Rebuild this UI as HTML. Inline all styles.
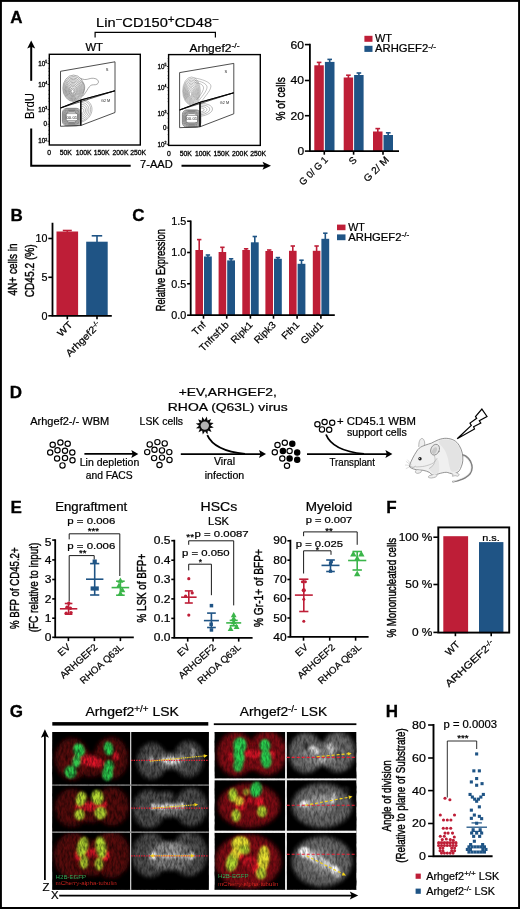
<!DOCTYPE html>
<html><head><meta charset="utf-8"><title>Figure</title>
<style>
html,body{margin:0;padding:0;background:#fff}
body{width:520px;height:909px;overflow:hidden}
svg{display:block}
text{font-family:"Liberation Sans",sans-serif;}
</style></head><body>
<svg width="520" height="909" viewBox="0 0 520 909">
<defs>
<filter id="b1" x="-30%" y="-30%" width="160%" height="160%"><feGaussianBlur stdDeviation="1.2"/></filter>
<filter id="b2" x="-30%" y="-30%" width="160%" height="160%"><feGaussianBlur stdDeviation="2.2"/></filter>
<filter id="b3" x="-30%" y="-30%" width="160%" height="160%"><feGaussianBlur stdDeviation="3.5"/></filter>
<filter id="b05" x="-30%" y="-30%" width="160%" height="160%"><feGaussianBlur stdDeviation="0.5"/></filter>
</defs>
<rect x="0" y="0" width="520" height="909" fill="#fff"/>

<rect x="0.0" y="0.0" width="520.0" height="1.9" fill="#000"/>
<rect x="0.0" y="0.0" width="1.9" height="909.0" fill="#000"/>
<rect x="518.1" y="0.0" width="1.9" height="909.0" fill="#000"/>
<rect x="0.0" y="907.0" width="520.0" height="2.0" fill="#000"/>
<text x="10.3" y="22.9" font-size="17" font-weight="bold" stroke="#000" stroke-width="0.3">A</text>
<text x="96.0" y="27.2" font-size="13.7" textLength="123.0" lengthAdjust="spacingAndGlyphs" stroke="#000" stroke-width="0.22">Lin<tspan dy="-4.5" font-size="11">−</tspan><tspan dy="4.5">CD150</tspan><tspan dy="-4.5" font-size="11">+</tspan><tspan dy="4.5">CD48</tspan><tspan dy="-4.5" font-size="11">−</tspan></text>
<path d="M95.1 37.5V32.4H215.4V37.5" fill="none" stroke="#000" stroke-width="1.2"/>
<text x="85.5" y="50.6" font-size="10" textLength="17.5" lengthAdjust="spacingAndGlyphs" stroke="#000" stroke-width="0.22">WT</text>
<text x="189.5" y="51.6" font-size="10.5" textLength="50.0" lengthAdjust="spacingAndGlyphs" stroke="#000" stroke-width="0.22">Arhgef2<tspan dy="-3.5" font-size="7.5">-/-</tspan></text>
<line x1="31.2" y1="80.8" x2="31.2" y2="46.0" stroke="#000" stroke-width="2"/>
<path d="M31.2 40.6L27.2 48.6L31.2 46.8L35.2 48.6Z" fill="#000" stroke="none" stroke-width="1"/>
<text transform="translate(34.2 106.0) rotate(-90)" font-size="12" text-anchor="middle" textLength="25.8" lengthAdjust="spacingAndGlyphs" stroke="#000" stroke-width="0.15">BrdU</text>
<path d="M31.2 128.5V165.7H130.7" fill="none" stroke="#000" stroke-width="2"/>
<text x="140.1" y="168.4" font-size="10.8" textLength="32.7" lengthAdjust="spacingAndGlyphs" stroke="#000" stroke-width="0.22">7-AAD</text>
<line x1="181.5" y1="165.7" x2="265.0" y2="165.7" stroke="#000" stroke-width="2"/>
<path d="M271 165.7L262.5 161.7L264.3 165.7L262.5 169.7Z" fill="#000" stroke="none" stroke-width="1"/>
<rect x="49.3" y="54.3" width="91.0" height="90.7" fill="#fff" stroke="#000" stroke-width="1.4"/>
<text x="47.1" y="65.7" font-size="6.3" text-anchor="end" stroke="#000" stroke-width="0.3">10<tspan dy="-2.5" font-size="3.5">5</tspan></text>
<line x1="47.5" y1="63.5" x2="49.3" y2="63.5" stroke="#000" stroke-width="0.8"/>
<text x="47.1" y="86.7" font-size="6.3" text-anchor="end" stroke="#000" stroke-width="0.3">10<tspan dy="-2.5" font-size="3.5">4</tspan></text>
<line x1="47.5" y1="84.5" x2="49.3" y2="84.5" stroke="#000" stroke-width="0.8"/>
<text x="47.1" y="111.8" font-size="6.3" text-anchor="end" stroke="#000" stroke-width="0.3">10<tspan dy="-2.5" font-size="3.5">3</tspan></text>
<line x1="47.5" y1="109.6" x2="49.3" y2="109.6" stroke="#000" stroke-width="0.8"/>
<text x="47.1" y="126.4" font-size="6.3" text-anchor="end" stroke="#000" stroke-width="0.3">0</text>
<line x1="47.5" y1="124.2" x2="49.3" y2="124.2" stroke="#000" stroke-width="0.8"/>
<text x="47.1" y="143.4" font-size="6.3" text-anchor="end" stroke="#000" stroke-width="0.3">10<tspan dy="-2.5" font-size="3.5">2</tspan></text>
<line x1="47.5" y1="141.2" x2="49.3" y2="141.2" stroke="#000" stroke-width="0.8"/>
<text x="49.2" y="155.4" font-size="6.8" text-anchor="middle" stroke="#000" stroke-width="0.3">0</text>
<text x="65.7" y="155.4" font-size="6.8" text-anchor="middle" stroke="#000" stroke-width="0.3">50K</text>
<text x="83.7" y="155.4" font-size="6.8" text-anchor="middle" stroke="#000" stroke-width="0.3">100K</text>
<text x="101.7" y="155.4" font-size="6.8" text-anchor="middle" stroke="#000" stroke-width="0.3">150K</text>
<text x="120.5" y="155.4" font-size="6.8" text-anchor="middle" stroke="#000" stroke-width="0.3">200K</text>
<text x="138.1" y="155.4" font-size="6.8" text-anchor="middle" stroke="#000" stroke-width="0.3">250K</text>
<line x1="48.3" y1="58.3" x2="49.3" y2="58.3" stroke="#000" stroke-width="0.5"/>
<line x1="48.3" y1="60.8" x2="49.3" y2="60.8" stroke="#000" stroke-width="0.5"/>
<line x1="48.3" y1="68.3" x2="49.3" y2="68.3" stroke="#000" stroke-width="0.5"/>
<line x1="48.3" y1="71.3" x2="49.3" y2="71.3" stroke="#000" stroke-width="0.5"/>
<line x1="48.3" y1="75.3" x2="49.3" y2="75.3" stroke="#000" stroke-width="0.5"/>
<line x1="48.3" y1="78.3" x2="49.3" y2="78.3" stroke="#000" stroke-width="0.5"/>
<line x1="48.3" y1="90.3" x2="49.3" y2="90.3" stroke="#000" stroke-width="0.5"/>
<line x1="48.3" y1="94.3" x2="49.3" y2="94.3" stroke="#000" stroke-width="0.5"/>
<line x1="48.3" y1="98.3" x2="49.3" y2="98.3" stroke="#000" stroke-width="0.5"/>
<line x1="48.3" y1="101.3" x2="49.3" y2="101.3" stroke="#000" stroke-width="0.5"/>
<line x1="48.3" y1="114.3" x2="49.3" y2="114.3" stroke="#000" stroke-width="0.5"/>
<line x1="48.3" y1="118.3" x2="49.3" y2="118.3" stroke="#000" stroke-width="0.5"/>
<line x1="48.3" y1="121.8" x2="49.3" y2="121.8" stroke="#000" stroke-width="0.5"/>
<line x1="48.3" y1="126.3" x2="49.3" y2="126.3" stroke="#000" stroke-width="0.5"/>
<line x1="48.3" y1="130.3" x2="49.3" y2="130.3" stroke="#000" stroke-width="0.5"/>
<line x1="48.3" y1="134.3" x2="49.3" y2="134.3" stroke="#000" stroke-width="0.5"/>
<ellipse cx="73.6" cy="88.3" rx="10.8" ry="13.2" fill="none" stroke="#5a5a5a" stroke-width="0.5"/>
<ellipse cx="73.5" cy="88.6" rx="9.9" ry="12.1" fill="none" stroke="#5a5a5a" stroke-width="0.5"/>
<ellipse cx="73.4" cy="88.9" rx="8.9" ry="10.9" fill="none" stroke="#5a5a5a" stroke-width="0.5"/>
<ellipse cx="73.3" cy="89.2" rx="8.0" ry="9.8" fill="none" stroke="#5a5a5a" stroke-width="0.5"/>
<ellipse cx="73.2" cy="89.5" rx="7.1" ry="8.7" fill="none" stroke="#5a5a5a" stroke-width="0.5"/>
<ellipse cx="73.1" cy="89.8" rx="6.2" ry="7.5" fill="none" stroke="#5a5a5a" stroke-width="0.5"/>
<ellipse cx="73.0" cy="90.1" rx="5.2" ry="6.4" fill="none" stroke="#5a5a5a" stroke-width="0.5"/>
<ellipse cx="72.9" cy="90.4" rx="4.3" ry="5.3" fill="none" stroke="#5a5a5a" stroke-width="0.5"/>
<ellipse cx="72.8" cy="90.7" rx="3.4" ry="4.1" fill="none" stroke="#5a5a5a" stroke-width="0.5"/>
<ellipse cx="72.7" cy="91.0" rx="2.4" ry="3.0" fill="none" stroke="#5a5a5a" stroke-width="0.5"/>
<ellipse cx="72.6" cy="91.3" rx="1.5" ry="1.8" fill="none" stroke="#5a5a5a" stroke-width="0.5"/>
<path d="M80.6 78.3C86.6 81.3 88.6 77.8 93.6 78.3C100.1 78.8 100.1 85.3 93.6 84.8C88.6 84.3 87.6 91.3 82.6 96.3" fill="none" stroke="#555" stroke-width="0.5"/>
<path d="M81.6 81.8C85.6 83.8 85.6 89.3 82.6 93.3" fill="none" stroke="#666" stroke-width="0.45"/>
<rect x="62.4" y="108.3" width="18.4" height="17.5" rx="4.6" fill="none" stroke="#4a4a4a" stroke-width="0.6"/>
<rect x="63.2" y="109.0" width="16.8" height="16.0" rx="4.2" fill="none" stroke="#4a4a4a" stroke-width="0.6"/>
<rect x="64.0" y="109.8" width="15.2" height="14.4" rx="3.8" fill="none" stroke="#4a4a4a" stroke-width="0.6"/>
<rect x="64.8" y="110.5" width="13.6" height="12.9" rx="3.4" fill="none" stroke="#4a4a4a" stroke-width="0.6"/>
<rect x="65.6" y="111.3" width="12.0" height="11.4" rx="3.0" fill="none" stroke="#4a4a4a" stroke-width="0.6"/>
<rect x="66.4" y="112.1" width="10.4" height="9.9" rx="2.6" fill="none" stroke="#4a4a4a" stroke-width="0.6"/>
<rect x="66.2" y="113.8" width="11.2" height="6.8" fill="#fff" stroke="#555" stroke-width="0.5"/>
<text x="71.8" y="118.8" font-size="4.3" text-anchor="middle" fill="#222">00.01</text>
<path d="M81.2 108.2C84.7 108.3 84.7 112.7 81.2 113.7" fill="none" stroke="#666" stroke-width="0.45"/>
<path d="M81.2 106.2C87.0 106.5 87.0 113.8 81.2 115.5" fill="none" stroke="#666" stroke-width="0.45"/>
<path d="M81.2 104.3C89.2 104.7 89.2 114.8 81.2 117.3" fill="none" stroke="#666" stroke-width="0.45"/>
<path d="M81.2 102.5C91.5 102.9 91.5 116.0 81.2 119.1" fill="none" stroke="#666" stroke-width="0.45"/>
<path d="M81.2 100.5C93.8 101.1 93.8 117.0 81.2 120.9" fill="none" stroke="#666" stroke-width="0.45"/>
<path d="M81.2 99.1C95.6 99.8 95.6 117.9 81.2 122.2" fill="none" stroke="#666" stroke-width="0.45"/>
<path d="M60.5 71.3L115.0 61.8L115.0 90.8L60.5 108.0Z" fill="none" stroke="#222" stroke-width="0.8"/>
<path d="M60.5 108.0L80.8 100.0L80.8 125.5L60.5 126.3Z" fill="none" stroke="#222" stroke-width="0.8"/>
<path d="M80.8 100.0L115.0 90.8L115.0 112.5L80.8 125.5Z" fill="none" stroke="#222" stroke-width="0.8"/>
<path d="M60.5 108.0L80.8 100.0L115.0 90.8" fill="none" stroke="#000" stroke-width="1.1"/>
<line x1="80.8" y1="100.0" x2="80.8" y2="125.5" stroke="#000" stroke-width="1.1"/>
<text x="105.7" y="71.4" font-size="4" fill="#222">S</text>
<text x="101.0" y="101.8" font-size="3.8" fill="#222">G2 M</text>
<rect x="168.6" y="54.6" width="91.7" height="90.8" fill="#fff" stroke="#000" stroke-width="1.4"/>
<text x="166.4" y="68.7" font-size="6.3" text-anchor="end" stroke="#000" stroke-width="0.3">10<tspan dy="-2.5" font-size="3.5">5</tspan></text>
<line x1="166.8" y1="66.5" x2="168.6" y2="66.5" stroke="#000" stroke-width="0.8"/>
<text x="166.4" y="89.9" font-size="6.3" text-anchor="end" stroke="#000" stroke-width="0.3">10<tspan dy="-2.5" font-size="3.5">4</tspan></text>
<line x1="166.8" y1="87.7" x2="168.6" y2="87.7" stroke="#000" stroke-width="0.8"/>
<text x="166.4" y="115.6" font-size="6.3" text-anchor="end" stroke="#000" stroke-width="0.3">10<tspan dy="-2.5" font-size="3.5">3</tspan></text>
<line x1="166.8" y1="113.4" x2="168.6" y2="113.4" stroke="#000" stroke-width="0.8"/>
<text x="166.4" y="130.2" font-size="6.3" text-anchor="end" stroke="#000" stroke-width="0.3">0</text>
<line x1="166.8" y1="128.0" x2="168.6" y2="128.0" stroke="#000" stroke-width="0.8"/>
<text x="166.4" y="146.5" font-size="6.3" text-anchor="end" stroke="#000" stroke-width="0.3">10<tspan dy="-2.5" font-size="3.5">2</tspan></text>
<line x1="166.8" y1="144.3" x2="168.6" y2="144.3" stroke="#000" stroke-width="0.8"/>
<text x="168.8" y="155.8" font-size="6.8" text-anchor="middle" stroke="#000" stroke-width="0.3">0</text>
<text x="185.7" y="155.8" font-size="6.8" text-anchor="middle" stroke="#000" stroke-width="0.3">50K</text>
<text x="202.9" y="155.8" font-size="6.8" text-anchor="middle" stroke="#000" stroke-width="0.3">100K</text>
<text x="221.5" y="155.8" font-size="6.8" text-anchor="middle" stroke="#000" stroke-width="0.3">150K</text>
<text x="240.0" y="155.8" font-size="6.8" text-anchor="middle" stroke="#000" stroke-width="0.3">200K</text>
<text x="258.1" y="155.8" font-size="6.8" text-anchor="middle" stroke="#000" stroke-width="0.3">250K</text>
<line x1="167.6" y1="58.6" x2="168.6" y2="58.6" stroke="#000" stroke-width="0.5"/>
<line x1="167.6" y1="61.1" x2="168.6" y2="61.1" stroke="#000" stroke-width="0.5"/>
<line x1="167.6" y1="68.6" x2="168.6" y2="68.6" stroke="#000" stroke-width="0.5"/>
<line x1="167.6" y1="71.6" x2="168.6" y2="71.6" stroke="#000" stroke-width="0.5"/>
<line x1="167.6" y1="75.6" x2="168.6" y2="75.6" stroke="#000" stroke-width="0.5"/>
<line x1="167.6" y1="78.6" x2="168.6" y2="78.6" stroke="#000" stroke-width="0.5"/>
<line x1="167.6" y1="90.6" x2="168.6" y2="90.6" stroke="#000" stroke-width="0.5"/>
<line x1="167.6" y1="94.6" x2="168.6" y2="94.6" stroke="#000" stroke-width="0.5"/>
<line x1="167.6" y1="98.6" x2="168.6" y2="98.6" stroke="#000" stroke-width="0.5"/>
<line x1="167.6" y1="101.6" x2="168.6" y2="101.6" stroke="#000" stroke-width="0.5"/>
<line x1="167.6" y1="114.6" x2="168.6" y2="114.6" stroke="#000" stroke-width="0.5"/>
<line x1="167.6" y1="118.6" x2="168.6" y2="118.6" stroke="#000" stroke-width="0.5"/>
<line x1="167.6" y1="122.1" x2="168.6" y2="122.1" stroke="#000" stroke-width="0.5"/>
<line x1="167.6" y1="126.6" x2="168.6" y2="126.6" stroke="#000" stroke-width="0.5"/>
<line x1="167.6" y1="130.6" x2="168.6" y2="130.6" stroke="#000" stroke-width="0.5"/>
<line x1="167.6" y1="134.6" x2="168.6" y2="134.6" stroke="#000" stroke-width="0.5"/>
<ellipse cx="191.5" cy="91.0" rx="8.8" ry="14.0" fill="none" stroke="#808080" stroke-width="0.5"/>
<ellipse cx="191.4" cy="91.3" rx="8.0" ry="12.8" fill="none" stroke="#808080" stroke-width="0.5"/>
<ellipse cx="191.3" cy="91.6" rx="7.3" ry="11.6" fill="none" stroke="#808080" stroke-width="0.5"/>
<ellipse cx="191.2" cy="91.9" rx="6.5" ry="10.4" fill="none" stroke="#808080" stroke-width="0.5"/>
<ellipse cx="191.1" cy="92.2" rx="5.8" ry="9.2" fill="none" stroke="#808080" stroke-width="0.5"/>
<ellipse cx="191.0" cy="92.5" rx="5.0" ry="8.0" fill="none" stroke="#808080" stroke-width="0.5"/>
<ellipse cx="190.9" cy="92.8" rx="4.3" ry="6.8" fill="none" stroke="#808080" stroke-width="0.5"/>
<ellipse cx="190.8" cy="93.1" rx="3.5" ry="5.6" fill="none" stroke="#808080" stroke-width="0.5"/>
<ellipse cx="190.7" cy="93.4" rx="2.7" ry="4.4" fill="none" stroke="#808080" stroke-width="0.5"/>
<ellipse cx="190.6" cy="93.7" rx="2.0" ry="3.2" fill="none" stroke="#808080" stroke-width="0.5"/>
<ellipse cx="190.5" cy="94.0" rx="1.2" ry="2.0" fill="none" stroke="#808080" stroke-width="0.5"/>
<path d="M194.5 78.0C201.5 79.0 210.5 82.0 211.0 86.0C210.5 92.0 203.5 97.0 199.5 105.0" fill="none" stroke="#777" stroke-width="0.45"/>
<path d="M194.5 80.4C201.5 81.2 206.7 83.8 207.1 87.0C206.7 92.0 201.1 97.0 197.9 102.2" fill="none" stroke="#777" stroke-width="0.45"/>
<path d="M194.5 82.6C201.5 83.2 203.3 85.4 203.6 87.9C203.3 92.0 198.9 97.0 196.5 99.7" fill="none" stroke="#777" stroke-width="0.45"/>
<rect x="182.4" y="109.9" width="18.4" height="17.5" rx="4.6" fill="none" stroke="#4a4a4a" stroke-width="0.6"/>
<rect x="183.2" y="110.6" width="16.8" height="16.0" rx="4.2" fill="none" stroke="#4a4a4a" stroke-width="0.6"/>
<rect x="184.0" y="111.4" width="15.2" height="14.4" rx="3.8" fill="none" stroke="#4a4a4a" stroke-width="0.6"/>
<rect x="184.8" y="112.1" width="13.6" height="12.9" rx="3.4" fill="none" stroke="#4a4a4a" stroke-width="0.6"/>
<rect x="185.6" y="112.9" width="12.0" height="11.4" rx="3.0" fill="none" stroke="#4a4a4a" stroke-width="0.6"/>
<rect x="186.4" y="113.7" width="10.4" height="9.9" rx="2.6" fill="none" stroke="#4a4a4a" stroke-width="0.6"/>
<rect x="186.2" y="115.4" width="11.2" height="6.8" fill="#fff" stroke="#555" stroke-width="0.5"/>
<text x="191.8" y="120.4" font-size="4.3" text-anchor="middle" fill="#222">00.01</text>
<path d="M200.4 107.9C205.5 108.0 205.5 111.2 200.4 112.0" fill="none" stroke="#666" stroke-width="0.45"/>
<path d="M200.4 106.4C209.1 106.6 209.1 112.1 200.4 113.4" fill="none" stroke="#666" stroke-width="0.45"/>
<path d="M200.4 104.9C212.8 105.1 212.8 113.0 200.4 114.9" fill="none" stroke="#666" stroke-width="0.45"/>
<path d="M200.4 103.3C216.5 103.7 216.5 113.8 200.4 116.3" fill="none" stroke="#666" stroke-width="0.45"/>
<path d="M179.6 72.6L233.8 63.4L233.8 92.8L179.6 110.0Z" fill="none" stroke="#222" stroke-width="0.8"/>
<path d="M179.6 110.0L200.0 102.3L200.0 126.8L179.6 127.7Z" fill="none" stroke="#222" stroke-width="0.8"/>
<path d="M200.0 102.3L233.8 92.8L233.8 113.8L200.0 126.8Z" fill="none" stroke="#222" stroke-width="0.8"/>
<path d="M179.6 110.0L200.0 102.3L233.8 92.8" fill="none" stroke="#000" stroke-width="1.1"/>
<line x1="200.0" y1="102.3" x2="200.0" y2="126.8" stroke="#000" stroke-width="1.1"/>
<text x="224.5" y="73.0" font-size="4" fill="#222">S</text>
<text x="219.8" y="103.8" font-size="3.8" fill="#222">G2 M</text>
<line x1="304.9" y1="44.6" x2="309.9" y2="44.6" stroke="#000" stroke-width="1.6"/>
<text x="304.1" y="48.5" font-size="10.8" text-anchor="end" textLength="13.5" lengthAdjust="spacingAndGlyphs" stroke="#000" stroke-width="0.22">60</text>
<line x1="304.9" y1="80.5" x2="309.9" y2="80.5" stroke="#000" stroke-width="1.6"/>
<text x="304.1" y="84.4" font-size="10.8" text-anchor="end" textLength="13.5" lengthAdjust="spacingAndGlyphs" stroke="#000" stroke-width="0.22">40</text>
<line x1="304.9" y1="115.7" x2="309.9" y2="115.7" stroke="#000" stroke-width="1.6"/>
<text x="304.1" y="119.6" font-size="10.8" text-anchor="end" textLength="13.5" lengthAdjust="spacingAndGlyphs" stroke="#000" stroke-width="0.22">20</text>
<line x1="304.9" y1="151.1" x2="309.9" y2="151.1" stroke="#000" stroke-width="1.6"/>
<text x="304.1" y="155.0" font-size="10.8" text-anchor="end" textLength="6.7" lengthAdjust="spacingAndGlyphs" stroke="#000" stroke-width="0.22">0</text>
<line x1="319.1" y1="66.3" x2="319.1" y2="62.4" stroke="#BE1E37" stroke-width="1.6"/>
<line x1="316.8" y1="62.4" x2="321.4" y2="62.4" stroke="#BE1E37" stroke-width="1.6"/>
<rect x="314.3" y="65.3" width="9.5" height="85.8" fill="#BE1E37"/>
<line x1="329.7" y1="62.9" x2="329.7" y2="59.4" stroke="#1F5485" stroke-width="1.6"/>
<line x1="327.4" y1="59.4" x2="332.0" y2="59.4" stroke="#1F5485" stroke-width="1.6"/>
<rect x="324.9" y="61.9" width="9.6" height="89.2" fill="#1F5485"/>
<line x1="348.4" y1="78.5" x2="348.4" y2="75.2" stroke="#BE1E37" stroke-width="1.6"/>
<line x1="346.1" y1="75.2" x2="350.7" y2="75.2" stroke="#BE1E37" stroke-width="1.6"/>
<rect x="343.7" y="77.5" width="9.4" height="73.6" fill="#BE1E37"/>
<line x1="358.9" y1="76.0" x2="358.9" y2="73.0" stroke="#1F5485" stroke-width="1.6"/>
<line x1="356.6" y1="73.0" x2="361.2" y2="73.0" stroke="#1F5485" stroke-width="1.6"/>
<rect x="354.1" y="75.0" width="9.5" height="76.1" fill="#1F5485"/>
<line x1="377.8" y1="132.5" x2="377.8" y2="128.6" stroke="#BE1E37" stroke-width="1.6"/>
<line x1="375.4" y1="128.6" x2="380.1" y2="128.6" stroke="#BE1E37" stroke-width="1.6"/>
<rect x="373.0" y="131.5" width="9.5" height="19.6" fill="#BE1E37"/>
<line x1="388.2" y1="136.0" x2="388.2" y2="132.8" stroke="#1F5485" stroke-width="1.6"/>
<line x1="385.9" y1="132.8" x2="390.6" y2="132.8" stroke="#1F5485" stroke-width="1.6"/>
<rect x="383.5" y="135.0" width="9.5" height="16.1" fill="#1F5485"/>
<path d="M309.9 43.8V151.1H399" fill="none" stroke="#000" stroke-width="1.8"/>
<line x1="324.3" y1="151.1" x2="324.3" y2="154.7" stroke="#000" stroke-width="1.6"/>
<line x1="353.6" y1="151.1" x2="353.6" y2="154.7" stroke="#000" stroke-width="1.6"/>
<line x1="383.0" y1="151.1" x2="383.0" y2="154.7" stroke="#000" stroke-width="1.6"/>
<text transform="translate(284.6 98.9) rotate(-90)" font-size="12.8" text-anchor="middle" textLength="43.4" lengthAdjust="spacingAndGlyphs" stroke="#000" stroke-width="0.42">% of cells</text>
<text transform="translate(328.5 160.5) rotate(-45)" font-size="9.8" text-anchor="end" textLength="36.0" lengthAdjust="spacingAndGlyphs" stroke="#000" stroke-width="0.22">G 0/ G 1</text>
<text transform="translate(357.5 160.5) rotate(-45)" font-size="9.8" text-anchor="end" stroke="#000" stroke-width="0.22">S</text>
<text transform="translate(389.5 160.5) rotate(-45)" font-size="9.8" text-anchor="end" textLength="31.0" lengthAdjust="spacingAndGlyphs" stroke="#000" stroke-width="0.22">G 2/ M</text>
<rect x="364.4" y="35.8" width="8.1" height="6.0" fill="#BE1E37"/>
<rect x="364.4" y="45.8" width="8.1" height="6.1" fill="#1F5485"/>
<text x="375.0" y="42.2" font-size="10.2" textLength="17.0" lengthAdjust="spacingAndGlyphs" stroke="#000" stroke-width="0.22">WT</text>
<text x="375.0" y="52.2" font-size="10.2" textLength="61.0" lengthAdjust="spacingAndGlyphs" stroke="#000" stroke-width="0.22">ARHGEF2<tspan dy="-3.4" font-size="7.5">-/-</tspan></text>
<text x="10.6" y="221.2" font-size="17" font-weight="bold" stroke="#000" stroke-width="0.3">B</text>
<line x1="48.3" y1="238.5" x2="52.5" y2="238.5" stroke="#000" stroke-width="1.6"/>
<text x="47.5" y="242.4" font-size="10.7" text-anchor="end" textLength="11.9" lengthAdjust="spacingAndGlyphs" stroke="#000" stroke-width="0.22">10</text>
<line x1="48.3" y1="277.3" x2="52.5" y2="277.3" stroke="#000" stroke-width="1.6"/>
<text x="47.5" y="281.2" font-size="10.7" text-anchor="end" textLength="6.0" lengthAdjust="spacingAndGlyphs" stroke="#000" stroke-width="0.22">5</text>
<line x1="48.3" y1="315.8" x2="52.5" y2="315.8" stroke="#000" stroke-width="1.6"/>
<text x="47.5" y="319.7" font-size="10.7" text-anchor="end" textLength="6.0" lengthAdjust="spacingAndGlyphs" stroke="#000" stroke-width="0.22">0</text>
<line x1="67.3" y1="232.5" x2="67.3" y2="230.5" stroke="#BE1E37" stroke-width="1.6"/>
<line x1="62.8" y1="230.5" x2="71.8" y2="230.5" stroke="#BE1E37" stroke-width="1.6"/>
<rect x="56.5" y="231.5" width="21.6" height="84.3" fill="#BE1E37"/>
<line x1="97.0" y1="242.7" x2="97.0" y2="235.8" stroke="#1F5485" stroke-width="1.6"/>
<line x1="91.7" y1="235.8" x2="102.2" y2="235.8" stroke="#1F5485" stroke-width="1.6"/>
<rect x="86.2" y="241.7" width="21.5" height="74.1" fill="#1F5485"/>
<path d="M52.5 222.8V315.8H111.8" fill="none" stroke="#000" stroke-width="1.8"/>
<line x1="67.3" y1="315.8" x2="67.3" y2="319.3" stroke="#000" stroke-width="1.6"/>
<line x1="97.0" y1="315.8" x2="97.0" y2="319.3" stroke="#000" stroke-width="1.6"/>
<text transform="translate(17.0 269.5) rotate(-90)" font-size="12.5" text-anchor="middle" textLength="52.0" lengthAdjust="spacingAndGlyphs" stroke="#000" stroke-width="0.42">4N+ cells in</text>
<text transform="translate(33.8 270.8) rotate(-90)" font-size="12.5" text-anchor="middle" textLength="53.0" lengthAdjust="spacingAndGlyphs" stroke="#000" stroke-width="0.42">CD45.2 (%)</text>
<text transform="translate(73.0 325.5) rotate(-45)" font-size="9.8" text-anchor="end" textLength="16.5" lengthAdjust="spacingAndGlyphs" stroke="#000" stroke-width="0.22">WT</text>
<text transform="translate(101.5 325.5) rotate(-45)" font-size="9.8" text-anchor="end" textLength="45.0" lengthAdjust="spacingAndGlyphs" stroke="#000" stroke-width="0.22">Arhgef2<tspan dy="-3.2" font-size="6.5">-/-</tspan></text>
<text x="132.2" y="221.2" font-size="17" font-weight="bold" stroke="#000" stroke-width="0.3">C</text>
<line x1="187.1" y1="221.2" x2="190.7" y2="221.2" stroke="#000" stroke-width="1.6"/>
<text x="186.3" y="225.1" font-size="10.8" text-anchor="end" textLength="15.0" lengthAdjust="spacingAndGlyphs" stroke="#000" stroke-width="0.22">1.5</text>
<line x1="187.1" y1="252.5" x2="190.7" y2="252.5" stroke="#000" stroke-width="1.6"/>
<text x="186.3" y="256.4" font-size="10.8" text-anchor="end" textLength="15.0" lengthAdjust="spacingAndGlyphs" stroke="#000" stroke-width="0.22">1.0</text>
<line x1="187.1" y1="283.8" x2="190.7" y2="283.8" stroke="#000" stroke-width="1.6"/>
<text x="186.3" y="287.7" font-size="10.8" text-anchor="end" textLength="15.0" lengthAdjust="spacingAndGlyphs" stroke="#000" stroke-width="0.22">0.5</text>
<line x1="187.1" y1="315.2" x2="190.7" y2="315.2" stroke="#000" stroke-width="1.6"/>
<text x="186.3" y="319.1" font-size="10.8" text-anchor="end" textLength="15.0" lengthAdjust="spacingAndGlyphs" stroke="#000" stroke-width="0.22">0.0</text>
<line x1="199.2" y1="251.0" x2="199.2" y2="239.6" stroke="#BE1E37" stroke-width="1.6"/>
<line x1="197.0" y1="239.6" x2="201.4" y2="239.6" stroke="#BE1E37" stroke-width="1.6"/>
<rect x="195.4" y="250.0" width="7.6" height="65.2" fill="#BE1E37"/>
<line x1="207.9" y1="257.5" x2="207.9" y2="255.0" stroke="#1F5485" stroke-width="1.6"/>
<line x1="205.7" y1="255.0" x2="210.1" y2="255.0" stroke="#1F5485" stroke-width="1.6"/>
<rect x="204.0" y="256.5" width="7.8" height="58.7" fill="#1F5485"/>
<line x1="222.4" y1="253.0" x2="222.4" y2="247.3" stroke="#BE1E37" stroke-width="1.6"/>
<line x1="220.2" y1="247.3" x2="224.6" y2="247.3" stroke="#BE1E37" stroke-width="1.6"/>
<rect x="218.6" y="252.0" width="7.6" height="63.2" fill="#BE1E37"/>
<line x1="231.1" y1="261.4" x2="231.1" y2="258.8" stroke="#1F5485" stroke-width="1.6"/>
<line x1="228.9" y1="258.8" x2="233.3" y2="258.8" stroke="#1F5485" stroke-width="1.6"/>
<rect x="227.2" y="260.4" width="7.8" height="54.8" fill="#1F5485"/>
<line x1="246.1" y1="251.0" x2="246.1" y2="248.8" stroke="#BE1E37" stroke-width="1.6"/>
<line x1="243.9" y1="248.8" x2="248.3" y2="248.8" stroke="#BE1E37" stroke-width="1.6"/>
<rect x="242.3" y="250.0" width="7.6" height="65.2" fill="#BE1E37"/>
<line x1="254.8" y1="243.3" x2="254.8" y2="236.5" stroke="#1F5485" stroke-width="1.6"/>
<line x1="252.6" y1="236.5" x2="257.0" y2="236.5" stroke="#1F5485" stroke-width="1.6"/>
<rect x="250.9" y="242.3" width="7.8" height="72.9" fill="#1F5485"/>
<line x1="269.2" y1="252.0" x2="269.2" y2="250.0" stroke="#BE1E37" stroke-width="1.6"/>
<line x1="267.0" y1="250.0" x2="271.4" y2="250.0" stroke="#BE1E37" stroke-width="1.6"/>
<rect x="265.4" y="251.0" width="7.6" height="64.2" fill="#BE1E37"/>
<line x1="277.9" y1="259.8" x2="277.9" y2="257.6" stroke="#1F5485" stroke-width="1.6"/>
<line x1="275.7" y1="257.6" x2="280.1" y2="257.6" stroke="#1F5485" stroke-width="1.6"/>
<rect x="274.0" y="258.8" width="7.8" height="56.4" fill="#1F5485"/>
<line x1="292.8" y1="251.8" x2="292.8" y2="246.0" stroke="#BE1E37" stroke-width="1.6"/>
<line x1="290.6" y1="246.0" x2="295.0" y2="246.0" stroke="#BE1E37" stroke-width="1.6"/>
<rect x="289.0" y="250.8" width="7.6" height="64.4" fill="#BE1E37"/>
<line x1="301.5" y1="264.8" x2="301.5" y2="260.2" stroke="#1F5485" stroke-width="1.6"/>
<line x1="299.3" y1="260.2" x2="303.7" y2="260.2" stroke="#1F5485" stroke-width="1.6"/>
<rect x="297.6" y="263.8" width="7.8" height="51.4" fill="#1F5485"/>
<line x1="316.6" y1="251.8" x2="316.6" y2="246.0" stroke="#BE1E37" stroke-width="1.6"/>
<line x1="314.4" y1="246.0" x2="318.8" y2="246.0" stroke="#BE1E37" stroke-width="1.6"/>
<rect x="312.8" y="250.8" width="7.6" height="64.4" fill="#BE1E37"/>
<line x1="325.3" y1="239.8" x2="325.3" y2="233.2" stroke="#1F5485" stroke-width="1.6"/>
<line x1="323.1" y1="233.2" x2="327.5" y2="233.2" stroke="#1F5485" stroke-width="1.6"/>
<rect x="321.4" y="238.8" width="7.8" height="76.4" fill="#1F5485"/>
<path d="M190.7 220.4V315.2H334.8" fill="none" stroke="#000" stroke-width="1.8"/>
<line x1="203.5" y1="315.2" x2="203.5" y2="318.7" stroke="#000" stroke-width="1.6"/>
<line x1="226.7" y1="315.2" x2="226.7" y2="318.7" stroke="#000" stroke-width="1.6"/>
<line x1="250.4" y1="315.2" x2="250.4" y2="318.7" stroke="#000" stroke-width="1.6"/>
<line x1="273.5" y1="315.2" x2="273.5" y2="318.7" stroke="#000" stroke-width="1.6"/>
<line x1="297.1" y1="315.2" x2="297.1" y2="318.7" stroke="#000" stroke-width="1.6"/>
<line x1="320.9" y1="315.2" x2="320.9" y2="318.7" stroke="#000" stroke-width="1.6"/>
<text transform="translate(164.8 270.2) rotate(-90)" font-size="12.8" text-anchor="middle" textLength="82.3" lengthAdjust="spacingAndGlyphs" stroke="#000" stroke-width="0.42">Relative Expression</text>
<text transform="translate(206.4 325.5) rotate(-45)" font-size="9.8" text-anchor="end" textLength="14.7" lengthAdjust="spacingAndGlyphs" stroke="#000" stroke-width="0.22">Tnf</text>
<text transform="translate(229.6 325.5) rotate(-45)" font-size="9.8" text-anchor="end" textLength="37.4" lengthAdjust="spacingAndGlyphs" stroke="#000" stroke-width="0.22">Tnfrsf1b</text>
<text transform="translate(253.3 325.5) rotate(-45)" font-size="9.8" text-anchor="end" textLength="26.1" lengthAdjust="spacingAndGlyphs" stroke="#000" stroke-width="0.22">Ripk1</text>
<text transform="translate(276.4 325.5) rotate(-45)" font-size="9.8" text-anchor="end" textLength="26.1" lengthAdjust="spacingAndGlyphs" stroke="#000" stroke-width="0.22">Ripk3</text>
<text transform="translate(300.0 325.5) rotate(-45)" font-size="9.8" text-anchor="end" textLength="20.4" lengthAdjust="spacingAndGlyphs" stroke="#000" stroke-width="0.22">Fth1</text>
<text transform="translate(323.8 325.5) rotate(-45)" font-size="9.8" text-anchor="end" textLength="27.2" lengthAdjust="spacingAndGlyphs" stroke="#000" stroke-width="0.22">Glud1</text>
<rect x="337.0" y="224.6" width="8.5" height="5.6" fill="#BE1E37"/>
<rect x="337.0" y="234.4" width="8.5" height="5.8" fill="#1F5485"/>
<text x="348.3" y="230.9" font-size="10.2" textLength="16.5" lengthAdjust="spacingAndGlyphs" stroke="#000" stroke-width="0.22">WT</text>
<text x="348.3" y="240.7" font-size="10.2" textLength="61.0" lengthAdjust="spacingAndGlyphs" stroke="#000" stroke-width="0.22">ARHGEF2<tspan dy="-3.4" font-size="7.5">-/-</tspan></text>
<text x="9.8" y="397.7" font-size="17" font-weight="bold" stroke="#000" stroke-width="0.3">D</text>
<text x="30.2" y="425.2" font-size="10.4" textLength="79.1" lengthAdjust="spacingAndGlyphs" stroke="#000" stroke-width="0.22">Arhgef2-/- WBM</text>
<text x="139.6" y="425.0" font-size="10.4" textLength="43.5" lengthAdjust="spacingAndGlyphs" stroke="#000" stroke-width="0.22">LSK cells</text>
<text x="178.7" y="395.6" font-size="11.6" textLength="98.2" lengthAdjust="spacingAndGlyphs" stroke="#000" stroke-width="0.22">+EV,ARHGEF2,</text>
<text x="167.8" y="411.2" font-size="11.6" textLength="120.0" lengthAdjust="spacingAndGlyphs" stroke="#000" stroke-width="0.22">RHOA (Q63L) virus</text>
<circle cx="52.7" cy="444.8" r="2.65" fill="#fff" stroke="#000" stroke-width="1.15"/>
<circle cx="60.4" cy="442.5" r="2.65" fill="#fff" stroke="#000" stroke-width="1.15"/>
<circle cx="67.7" cy="443.8" r="2.65" fill="#fff" stroke="#000" stroke-width="1.15"/>
<circle cx="50.2" cy="452.5" r="2.65" fill="#fff" stroke="#000" stroke-width="1.15"/>
<circle cx="57.5" cy="450.2" r="2.65" fill="#fff" stroke="#000" stroke-width="1.15"/>
<circle cx="65.0" cy="450.8" r="2.65" fill="#fff" stroke="#000" stroke-width="1.15"/>
<circle cx="72.3" cy="452.5" r="2.65" fill="#fff" stroke="#000" stroke-width="1.15"/>
<circle cx="57.1" cy="458.5" r="2.65" fill="#fff" stroke="#000" stroke-width="1.15"/>
<circle cx="65.0" cy="458.0" r="2.65" fill="#fff" stroke="#000" stroke-width="1.15"/>
<circle cx="72.5" cy="460.3" r="2.65" fill="#fff" stroke="#000" stroke-width="1.15"/>
<circle cx="62.5" cy="465.4" r="2.65" fill="#fff" stroke="#000" stroke-width="1.15"/>
<circle cx="149.7" cy="444.4" r="2.65" fill="#fff" stroke="#000" stroke-width="1.15"/>
<circle cx="157.4" cy="442.1" r="2.65" fill="#fff" stroke="#000" stroke-width="1.15"/>
<circle cx="164.7" cy="443.4" r="2.65" fill="#fff" stroke="#000" stroke-width="1.15"/>
<circle cx="147.2" cy="452.1" r="2.65" fill="#fff" stroke="#000" stroke-width="1.15"/>
<circle cx="154.5" cy="449.8" r="2.65" fill="#fff" stroke="#000" stroke-width="1.15"/>
<circle cx="162.0" cy="450.4" r="2.65" fill="#fff" stroke="#000" stroke-width="1.15"/>
<circle cx="169.3" cy="452.1" r="2.65" fill="#fff" stroke="#000" stroke-width="1.15"/>
<circle cx="154.1" cy="458.1" r="2.65" fill="#fff" stroke="#000" stroke-width="1.15"/>
<circle cx="162.0" cy="457.6" r="2.65" fill="#fff" stroke="#000" stroke-width="1.15"/>
<circle cx="169.5" cy="459.9" r="2.65" fill="#fff" stroke="#000" stroke-width="1.15"/>
<circle cx="159.5" cy="465.0" r="2.65" fill="#fff" stroke="#000" stroke-width="1.15"/>
<circle cx="277.5" cy="445.0" r="2.65" fill="#fff" stroke="#000" stroke-width="1.15"/>
<circle cx="284.8" cy="442.8" r="2.65" fill="#fff" stroke="#000" stroke-width="1.15"/>
<circle cx="292.3" cy="443.7" r="2.65" fill="#000" stroke="#000" stroke-width="1.15"/>
<circle cx="274.8" cy="452.3" r="2.65" fill="#fff" stroke="#000" stroke-width="1.15"/>
<circle cx="282.9" cy="451.0" r="2.65" fill="#000" stroke="#000" stroke-width="1.15"/>
<circle cx="289.6" cy="451.0" r="2.65" fill="#fff" stroke="#000" stroke-width="1.15"/>
<circle cx="297.2" cy="452.5" r="2.65" fill="#000" stroke="#000" stroke-width="1.15"/>
<circle cx="282.3" cy="458.5" r="2.65" fill="#fff" stroke="#000" stroke-width="1.15"/>
<circle cx="289.6" cy="458.5" r="2.65" fill="#000" stroke="#000" stroke-width="1.15"/>
<circle cx="297.2" cy="459.8" r="2.65" fill="#000" stroke="#000" stroke-width="1.15"/>
<circle cx="287.0" cy="465.7" r="2.65" fill="#fff" stroke="#000" stroke-width="1.15"/>
<circle cx="317.4" cy="424.3" r="2.65" fill="#fff" stroke="#000" stroke-width="1.15"/>
<circle cx="324.6" cy="422.0" r="2.65" fill="#fff" stroke="#000" stroke-width="1.15"/>
<circle cx="332.2" cy="422.7" r="2.65" fill="#fff" stroke="#000" stroke-width="1.15"/>
<circle cx="322.0" cy="429.4" r="2.65" fill="#fff" stroke="#000" stroke-width="1.15"/>
<circle cx="329.2" cy="429.7" r="2.65" fill="#fff" stroke="#000" stroke-width="1.15"/>
<line x1="84.4" y1="453.9" x2="134.3" y2="453.9" stroke="#000" stroke-width="1.9"/>
<path d="M138.3 453.9L131.3 449.9L132.7 453.9L131.3 457.9Z" fill="#000" stroke="none" stroke-width="1"/>
<line x1="180.8" y1="454.1" x2="262.0" y2="454.1" stroke="#000" stroke-width="1.9"/>
<path d="M266.0 454.1L259.0 450.1L260.4 454.1L259.0 458.1Z" fill="#000" stroke="none" stroke-width="1"/>
<line x1="307.0" y1="454.1" x2="388.4" y2="454.1" stroke="#000" stroke-width="1.9"/>
<path d="M392.4 454.1L385.4 450.1L386.8 454.1L385.4 458.1Z" fill="#000" stroke="none" stroke-width="1"/>
<text x="109.5" y="466.4" font-size="10.4" text-anchor="middle" textLength="59.5" lengthAdjust="spacingAndGlyphs" stroke="#000" stroke-width="0.22">Lin depletion</text>
<text x="109.2" y="479.2" font-size="10.4" text-anchor="middle" textLength="47.0" lengthAdjust="spacingAndGlyphs" stroke="#000" stroke-width="0.22">and FACS</text>
<text x="224.5" y="464.8" font-size="10.4" text-anchor="middle" textLength="21.0" lengthAdjust="spacingAndGlyphs" stroke="#000" stroke-width="0.22">Viral</text>
<text x="224.5" y="479.4" font-size="10.4" text-anchor="middle" textLength="39.5" lengthAdjust="spacingAndGlyphs" stroke="#000" stroke-width="0.22">infection</text>
<text x="352.2" y="466.3" font-size="10.4" text-anchor="middle" textLength="45.5" lengthAdjust="spacingAndGlyphs" stroke="#000" stroke-width="0.22">Transplant</text>
<text x="337.0" y="425.2" font-size="10.4" textLength="79.0" lengthAdjust="spacingAndGlyphs" stroke="#000" stroke-width="0.22">+ CD45.1 WBM</text>
<text x="347.0" y="435.8" font-size="10.4" textLength="59.8" lengthAdjust="spacingAndGlyphs" stroke="#000" stroke-width="0.22">support cells</text>
<path d="M213.6 422.9L210.5 425.4L213.8 427.6L209.8 428.3L211.5 431.9L207.8 430.4L207.5 434.4L205.0 431.3L202.8 434.6L202.1 430.6L198.5 432.3L200.0 428.6L196.0 428.3L199.1 425.8L195.8 423.6L199.8 422.9L198.1 419.3L201.8 420.8L202.1 416.8L204.6 419.9L206.8 416.6L207.5 420.6L211.1 418.9L209.6 422.6Z" fill="#0a0a0a" stroke="none" stroke-width="1"/>
<circle cx="204.8" cy="425.6" r="4.2" fill="#b2b2b2"/>
<path d="M207.3 435.2C211.5 444.5 223 451.8 245 454" fill="none" stroke="#000" stroke-width="1.8"/>
<path d="M326 434.5C330 444.5 342 451.8 364 454" fill="none" stroke="#000" stroke-width="1.8"/>
<path d="M481.9 409.1L487.0 416.5L479.3 420.7L480.8 423.1L473.6 426.7L474.5 429.1L457.2 438.7L471.3 425.5L470.0 423.1L476.7 418.3L475.5 416.5Z" fill="#fff" stroke="#000" stroke-width="1.2" stroke-linejoin="miter"/>
<g stroke-linecap="round">
<path d="M461.2 454.6C462.1 454.9 464.6 455.3 466.2 456.5C467.7 457.6 469.5 459.7 470.5 461.5C471.4 463.4 472.1 465.6 472.0 467.7C471.9 469.7 471.2 472.1 470.0 473.8C468.8 475.6 466.5 476.9 464.6 478.0C462.7 479.1 460.4 479.8 458.5 480.5C456.5 481.1 454.0 481.5 453.1 481.7" fill="none" stroke="#808080" stroke-width="1.7"/>
<path d="M461.2 455.5C462.1 455.9 464.8 456.6 466.2 457.7C467.5 458.8 468.7 460.6 469.5 462.3C470.3 464.0 471.0 465.8 470.9 467.7C470.8 469.5 470.2 471.8 469.1 473.4C467.9 474.9 465.8 476.1 464.0 477.1C462.2 478.1 460.0 478.8 458.2 479.5C456.3 480.3 453.9 481.3 453.1 481.7" fill="none" stroke="#eee" stroke-width="0.8"/>
<path d="M418.8 446.6C418.8 445.9 418.7 443.6 419.1 442.3C419.4 441.0 420.1 439.5 420.8 438.9C421.4 438.4 422.4 438.4 423.1 438.9C423.7 439.4 424.4 440.9 424.6 442.0C424.9 443.1 424.6 444.8 424.6 445.4" fill="#eee" stroke="#999" stroke-width="0.7"/>
<path d="M409.5 466.2C409.5 465.1 410.2 463.5 411.1 461.5C411.9 459.6 413.3 456.8 414.6 454.6C416.0 452.4 417.4 449.7 419.2 448.2C421.0 446.6 423.3 445.9 425.4 445.1C427.4 444.2 429.4 444.0 431.5 443.1C433.7 442.2 436.0 440.5 438.5 439.7C440.9 438.9 443.6 438.2 446.2 438.3C448.7 438.4 451.7 439.0 453.8 440.2C456.0 441.3 457.8 443.2 459.2 445.4C460.6 447.5 461.7 450.5 462.3 453.1C462.9 455.6 462.9 458.5 462.8 460.8C462.6 463.1 462.0 465.1 461.2 466.9C460.5 468.8 459.6 470.7 458.2 471.8C456.7 473.0 454.3 473.8 452.3 473.8C450.3 473.9 448.5 472.3 446.2 472.3C443.8 472.3 440.6 473.3 438.5 473.8C436.3 474.4 434.6 475.6 433.1 475.4C431.5 475.1 430.9 473.2 429.2 472.3C427.6 471.5 425.3 470.7 423.1 470.3C420.9 469.9 418.1 470.1 416.2 469.7C414.2 469.3 412.6 468.7 411.5 468.2C410.4 467.6 409.6 467.3 409.5 466.2Z" fill="#f0f0f0" stroke="#7a7a7a" stroke-width="0.8"/>
<pattern id="hatch" width="1.6" height="1.6" patternUnits="userSpaceOnUse" patternTransform="rotate(72)"><line x1="0" y1="0.8" x2="1.6" y2="0.8" stroke="#9a9a9a" stroke-width="0.35"/></pattern>
<path d="M438.5 441.5C438.7 439.8 443.6 439.6 446.2 439.5C448.7 439.5 451.8 440.3 453.8 441.4C455.9 442.5 457.2 444.2 458.5 446.2C459.7 448.1 460.7 450.6 461.2 453.1C461.7 455.5 461.7 458.5 461.5 460.8C461.3 463.1 460.8 465.3 460.0 466.9C459.2 468.6 458.3 470.0 456.9 470.8C455.5 471.5 452.8 472.4 451.5 471.5C450.3 470.6 449.9 467.7 449.2 465.4C448.6 463.1 448.5 460.3 447.7 457.7C446.9 455.1 446.2 452.7 444.6 450.0C443.1 447.3 438.2 443.3 438.5 441.5Z" fill="url(#hatch)" stroke="none" stroke-width="1" opacity="0.7"/>
<path d="M429.2 468.5C429.1 466.9 431.9 466.2 433.1 464.6C434.2 463.1 435.3 459.9 436.2 459.2C437.1 458.6 437.9 459.5 438.5 460.8C439.0 462.1 439.2 465.0 439.2 466.9C439.2 468.8 439.4 471.2 438.5 472.3C437.6 473.5 435.4 474.5 433.8 473.8C432.3 473.2 429.4 470.0 429.2 468.5Z" fill="url(#hatch)" stroke="none" stroke-width="1" opacity="0.6"/>
<path d="M433.1 451.5C433.4 452.8 435.1 456.9 435.1 459.2C435.1 461.5 434.1 463.8 433.1 465.4C432.1 466.9 429.9 467.9 429.2 468.5" fill="none" stroke="#aaa" stroke-width="0.6"/>
<ellipse cx="435.1" cy="449.7" rx="4.2" ry="5.6" transform="rotate(25 435.1 449.7)" fill="#e4e4e4" stroke="#888" stroke-width="0.8"/>
<ellipse cx="434.5" cy="450.6" rx="2.2" ry="3.6" transform="rotate(25 434.5 450.6)" fill="#c8c8c8"/>
<circle cx="420.0" cy="458.8" r="1.7" fill="#222"/>
<circle cx="419.5" cy="458.5" r="0.5" fill="#ddd"/>
<path d="M410.5 466.6C410.9 466.7 412.3 467.4 413.1 467.4C413.9 467.3 415.0 466.5 415.4 466.3" fill="none" stroke="#888" stroke-width="0.6"/>
<path d="M416.2 466.9C417.6 466.8 421.8 466.8 424.6 466.2C427.4 465.5 431.0 464.4 433.1 463.1C435.1 461.8 436.3 459.2 436.9 458.5" fill="none" stroke="#aaa" stroke-width="0.6"/>
<path d="M410.5 464.6C409.7 464.1 406.9 462.1 406.2 461.5" fill="none" stroke="#aaa" stroke-width="0.4"/>
<path d="M410.5 465.4C409.6 465.3 406.2 465.1 405.4 465.1" fill="none" stroke="#aaa" stroke-width="0.4"/>
<path d="M410.8 466.3C410.0 466.7 406.9 468.1 406.2 468.5" fill="none" stroke="#aaa" stroke-width="0.4"/>
<path d="M411.1 464.2C410.5 463.5 408.3 460.7 407.7 460.0" fill="none" stroke="#aaa" stroke-width="0.4"/>
<path d="M416.2 470.3C416.0 470.6 415.1 471.8 415.4 472.3C415.6 472.8 416.8 473.4 417.7 473.4C418.6 473.4 420.1 472.7 420.8 472.3C421.4 471.9 421.4 471.0 421.5 470.8" fill="#eee" stroke="#999" stroke-width="0.7"/>
<path d="M433.1 474.6C432.4 474.8 430.0 475.4 429.2 475.8C428.5 476.3 428.1 477.0 428.5 477.4C428.8 477.7 430.3 478.1 431.5 478.0C432.7 477.9 434.7 477.5 435.7 476.9C436.7 476.4 437.4 475.0 437.7 474.6" fill="#eee" stroke="#999" stroke-width="0.7"/>
<path d="M450.8 473.1C451.2 473.3 452.8 474.1 453.1 474.6C453.3 475.1 451.9 476.0 452.3 476.2C452.7 476.3 454.5 475.7 455.4 475.7C456.3 475.7 457.1 476.3 457.7 476.2C458.3 476.0 459.4 475.1 459.2 474.6C459.1 474.1 457.3 473.3 456.9 473.1" fill="#eee" stroke="#999" stroke-width="0.7"/>
</g>
<text x="10.6" y="512.5" font-size="17" font-weight="bold" stroke="#000" stroke-width="0.3">E</text>
<text x="55.2" y="510.9" font-size="12" textLength="72.0" lengthAdjust="spacingAndGlyphs" stroke="#000" stroke-width="0.22">Engraftment</text>
<text x="67.3" y="524.2" font-size="9.7" textLength="48.0" lengthAdjust="spacingAndGlyphs" stroke="#000" stroke-width="0.22">p = 0.006</text>
<text x="93.4" y="534.0" font-size="8.5" text-anchor="middle" textLength="11.5" lengthAdjust="spacingAndGlyphs" stroke="#000" stroke-width="0.22">***</text>
<path d="M69.2 539.4V533.8H119.8V576" fill="none" stroke="#1a1a1a" stroke-width="1"/>
<text x="67.3" y="548.5" font-size="9.7" textLength="48.0" lengthAdjust="spacingAndGlyphs" stroke="#000" stroke-width="0.22">p = 0.006</text>
<text x="82.7" y="556.4" font-size="8.5" text-anchor="middle" textLength="7.5" lengthAdjust="spacingAndGlyphs" stroke="#000" stroke-width="0.22">**</text>
<path d="M69.2 601.5V555.6H94.2V559.6" fill="none" stroke="#1a1a1a" stroke-width="1"/>
<line x1="52.2" y1="559.9" x2="55.2" y2="559.9" stroke="#000" stroke-width="1.6"/>
<text x="51.4" y="563.5" font-size="10" text-anchor="end" textLength="6.7" lengthAdjust="spacingAndGlyphs" stroke="#000" stroke-width="0.22">4</text>
<line x1="52.2" y1="579.5" x2="55.2" y2="579.5" stroke="#000" stroke-width="1.6"/>
<text x="51.4" y="583.1" font-size="10" text-anchor="end" textLength="6.7" lengthAdjust="spacingAndGlyphs" stroke="#000" stroke-width="0.22">3</text>
<line x1="52.2" y1="598.9" x2="55.2" y2="598.9" stroke="#000" stroke-width="1.6"/>
<text x="51.4" y="602.5" font-size="10" text-anchor="end" textLength="6.7" lengthAdjust="spacingAndGlyphs" stroke="#000" stroke-width="0.22">2</text>
<line x1="52.2" y1="618.2" x2="55.2" y2="618.2" stroke="#000" stroke-width="1.6"/>
<text x="51.4" y="621.8" font-size="10" text-anchor="end" textLength="6.7" lengthAdjust="spacingAndGlyphs" stroke="#000" stroke-width="0.22">1</text>
<line x1="52.2" y1="637.3" x2="55.2" y2="637.3" stroke="#000" stroke-width="1.6"/>
<text x="51.4" y="640.9" font-size="10" text-anchor="end" textLength="6.7" lengthAdjust="spacingAndGlyphs" stroke="#000" stroke-width="0.22">0</text>
<line x1="52.2" y1="540.1" x2="55.2" y2="540.1" stroke="#000" stroke-width="1.6"/>
<text x="51.4" y="546.0" font-size="10" text-anchor="end" textLength="6.7" lengthAdjust="spacingAndGlyphs" stroke="#000" stroke-width="0.22">5</text>
<path d="M55.2 539.3V637.3H133.8" fill="none" stroke="#000" stroke-width="1.8"/>
<line x1="68.4" y1="637.3" x2="68.4" y2="641.1" stroke="#000" stroke-width="1.6"/>
<line x1="94.4" y1="637.3" x2="94.4" y2="641.1" stroke="#000" stroke-width="1.6"/>
<line x1="120.4" y1="637.3" x2="120.4" y2="641.1" stroke="#000" stroke-width="1.6"/>
<text transform="translate(19.4 588.2) rotate(-90)" font-size="12.3" text-anchor="middle" textLength="81.5" lengthAdjust="spacingAndGlyphs" stroke="#000" stroke-width="0.42">% BFP of CD45.2+</text>
<text transform="translate(38.0 587.5) rotate(-90)" font-size="12.3" text-anchor="middle" textLength="89.5" lengthAdjust="spacingAndGlyphs" stroke="#000" stroke-width="0.42">(FC relative to input)</text>
<circle cx="68.8" cy="603.2" r="1.7" fill="#BE1E37"/>
<circle cx="67.0" cy="607.2" r="1.7" fill="#BE1E37"/>
<circle cx="70.4" cy="608.2" r="1.7" fill="#BE1E37"/>
<circle cx="66.2" cy="613.2" r="1.7" fill="#BE1E37"/>
<circle cx="71.0" cy="612.6" r="1.7" fill="#BE1E37"/>
<line x1="68.6" y1="603.5" x2="68.6" y2="614.2" stroke="#BE1E37" stroke-width="1.6"/>
<line x1="59.9" y1="608.8" x2="77.3" y2="608.8" stroke="#BE1E37" stroke-width="1.6"/>
<line x1="64.8" y1="603.5" x2="72.4" y2="603.5" stroke="#BE1E37" stroke-width="1.6"/>
<line x1="64.8" y1="614.2" x2="72.4" y2="614.2" stroke="#BE1E37" stroke-width="1.6"/>
<rect x="92.6" y="559.5" width="4.2" height="4.2" fill="#1F5485"/>
<rect x="90.6" y="586.4" width="4.2" height="4.2" fill="#1F5485"/>
<rect x="94.6" y="586.4" width="4.2" height="4.2" fill="#1F5485"/>
<line x1="94.7" y1="563.6" x2="94.7" y2="595.0" stroke="#1F5485" stroke-width="1.6"/>
<line x1="86.0" y1="579.2" x2="103.4" y2="579.2" stroke="#1F5485" stroke-width="1.6"/>
<line x1="90.1" y1="563.6" x2="99.3" y2="563.6" stroke="#1F5485" stroke-width="1.6"/>
<line x1="90.1" y1="595.0" x2="99.3" y2="595.0" stroke="#1F5485" stroke-width="1.6"/>
<path d="M120.4 577.4L123.4 582.8L117.4 582.8Z" fill="#3BB54A" stroke="none" stroke-width="1"/>
<path d="M119.0 582.6L122.0 588.0L116.0 588.0Z" fill="#3BB54A" stroke="none" stroke-width="1"/>
<path d="M122.3 586.8L125.3 592.2L119.3 592.2Z" fill="#3BB54A" stroke="none" stroke-width="1"/>
<path d="M120.4 590.4L123.4 595.8L117.4 595.8Z" fill="#3BB54A" stroke="none" stroke-width="1"/>
<line x1="120.4" y1="581.2" x2="120.4" y2="595.2" stroke="#3BB54A" stroke-width="1.6"/>
<line x1="111.6" y1="587.6" x2="129.2" y2="587.6" stroke="#3BB54A" stroke-width="1.6"/>
<line x1="116.1" y1="581.2" x2="124.7" y2="581.2" stroke="#3BB54A" stroke-width="1.6"/>
<line x1="116.1" y1="595.2" x2="124.7" y2="595.2" stroke="#3BB54A" stroke-width="1.6"/>
<text transform="translate(71.0 648.0) rotate(-42)" font-size="9.6" text-anchor="end" textLength="13.0" lengthAdjust="spacingAndGlyphs" stroke="#000" stroke-width="0.22">EV</text>
<text transform="translate(98.0 648.0) rotate(-42)" font-size="9.6" text-anchor="end" textLength="46.5" lengthAdjust="spacingAndGlyphs" stroke="#000" stroke-width="0.22">ARHGEF2</text>
<text transform="translate(124.0 648.0) rotate(-42)" font-size="9.6" text-anchor="end" textLength="54.5" lengthAdjust="spacingAndGlyphs" stroke="#000" stroke-width="0.22">RHOA Q63L</text>
<text x="200.5" y="510.9" font-size="12" textLength="36.7" lengthAdjust="spacingAndGlyphs" stroke="#000" stroke-width="0.22">HSCs</text>
<text x="208.0" y="525.2" font-size="10" textLength="21.0" lengthAdjust="spacingAndGlyphs" stroke="#000" stroke-width="0.22">LSK</text>
<text x="186.3" y="540.3" font-size="8.5" textLength="7.8" lengthAdjust="spacingAndGlyphs" stroke="#000" stroke-width="0.22">**</text>
<text x="194.6" y="536.8" font-size="9.7" textLength="54.0" lengthAdjust="spacingAndGlyphs" stroke="#000" stroke-width="0.22">p = 0.0087</text>
<path d="M188.7 544.8V540.8H233.7V605.4" fill="none" stroke="#1a1a1a" stroke-width="1"/>
<text x="182.0" y="555.8" font-size="9.7" textLength="47.6" lengthAdjust="spacingAndGlyphs" stroke="#000" stroke-width="0.22">p = 0.050</text>
<text x="200.5" y="564.5" font-size="8.5" text-anchor="middle" stroke="#000" stroke-width="0.22">*</text>
<path d="M188.7 570.4V564.2H211.4V595.2" fill="none" stroke="#1a1a1a" stroke-width="1"/>
<line x1="171.3" y1="540.7" x2="174.3" y2="540.7" stroke="#000" stroke-width="1.6"/>
<text x="170.5" y="544.3" font-size="10" text-anchor="end" textLength="16.7" lengthAdjust="spacingAndGlyphs" stroke="#000" stroke-width="0.22">0.5</text>
<line x1="171.3" y1="560.2" x2="174.3" y2="560.2" stroke="#000" stroke-width="1.6"/>
<text x="170.5" y="563.8" font-size="10" text-anchor="end" textLength="16.7" lengthAdjust="spacingAndGlyphs" stroke="#000" stroke-width="0.22">0.4</text>
<line x1="171.3" y1="579.4" x2="174.3" y2="579.4" stroke="#000" stroke-width="1.6"/>
<text x="170.5" y="583.0" font-size="10" text-anchor="end" textLength="16.7" lengthAdjust="spacingAndGlyphs" stroke="#000" stroke-width="0.22">0.3</text>
<line x1="171.3" y1="598.9" x2="174.3" y2="598.9" stroke="#000" stroke-width="1.6"/>
<text x="170.5" y="602.5" font-size="10" text-anchor="end" textLength="16.7" lengthAdjust="spacingAndGlyphs" stroke="#000" stroke-width="0.22">0.2</text>
<line x1="171.3" y1="618.4" x2="174.3" y2="618.4" stroke="#000" stroke-width="1.6"/>
<text x="170.5" y="622.0" font-size="10" text-anchor="end" textLength="16.7" lengthAdjust="spacingAndGlyphs" stroke="#000" stroke-width="0.22">0.1</text>
<line x1="171.3" y1="637.8" x2="174.3" y2="637.8" stroke="#000" stroke-width="1.6"/>
<text x="170.5" y="641.4" font-size="10" text-anchor="end" textLength="16.7" lengthAdjust="spacingAndGlyphs" stroke="#000" stroke-width="0.22">0.0</text>
<path d="M174.3 539.8V637.8H252.6" fill="none" stroke="#000" stroke-width="1.8"/>
<line x1="187.7" y1="637.8" x2="187.7" y2="641.6" stroke="#000" stroke-width="1.6"/>
<line x1="213.1" y1="637.8" x2="213.1" y2="641.6" stroke="#000" stroke-width="1.6"/>
<line x1="238.7" y1="637.8" x2="238.7" y2="641.6" stroke="#000" stroke-width="1.6"/>
<text transform="translate(145.9 588.2) rotate(-90)" font-size="12.5" text-anchor="middle" textLength="68.7" lengthAdjust="spacingAndGlyphs" stroke="#000" stroke-width="0.42">% LSK of BFP+</text>
<circle cx="188.8" cy="578.7" r="1.6" fill="#BE1E37"/>
<circle cx="185.6" cy="596.2" r="1.6" fill="#BE1E37"/>
<circle cx="192.2" cy="592.9" r="1.6" fill="#BE1E37"/>
<circle cx="188.8" cy="615.1" r="1.6" fill="#BE1E37"/>
<line x1="188.8" y1="590.9" x2="188.8" y2="603.0" stroke="#BE1E37" stroke-width="1.6"/>
<line x1="181.1" y1="597.2" x2="196.6" y2="597.2" stroke="#BE1E37" stroke-width="1.6"/>
<line x1="184.8" y1="590.9" x2="192.8" y2="590.9" stroke="#BE1E37" stroke-width="1.6"/>
<line x1="184.8" y1="603.0" x2="192.8" y2="603.0" stroke="#BE1E37" stroke-width="1.6"/>
<rect x="209.7" y="603.9" width="3.5" height="3.5" fill="#1F5485"/>
<rect x="209.4" y="622.5" width="3.5" height="3.5" fill="#1F5485"/>
<rect x="209.7" y="628.2" width="3.5" height="3.5" fill="#1F5485"/>
<line x1="211.4" y1="613.1" x2="211.4" y2="627.5" stroke="#1F5485" stroke-width="1.6"/>
<line x1="203.9" y1="620.6" x2="218.9" y2="620.6" stroke="#1F5485" stroke-width="1.6"/>
<line x1="207.1" y1="613.1" x2="215.8" y2="613.1" stroke="#1F5485" stroke-width="1.6"/>
<line x1="207.1" y1="627.5" x2="215.8" y2="627.5" stroke="#1F5485" stroke-width="1.6"/>
<path d="M233.7 612.1L236.6 617.3L230.8 617.3Z" fill="#3BB54A" stroke="none" stroke-width="1"/>
<path d="M233.7 615.6L236.6 620.8L230.8 620.8Z" fill="#3BB54A" stroke="none" stroke-width="1"/>
<path d="M233.7 619.1L236.6 624.3L230.8 624.3Z" fill="#3BB54A" stroke="none" stroke-width="1"/>
<path d="M230.6 625.7L233.5 630.9L227.7 630.9Z" fill="#3BB54A" stroke="none" stroke-width="1"/>
<path d="M236.6 623.7L239.5 628.9L233.7 628.9Z" fill="#3BB54A" stroke="none" stroke-width="1"/>
<line x1="233.7" y1="620.4" x2="233.7" y2="625.8" stroke="#3BB54A" stroke-width="1.6"/>
<line x1="226.2" y1="622.9" x2="241.2" y2="622.9" stroke="#3BB54A" stroke-width="1.6"/>
<line x1="229.7" y1="620.4" x2="237.7" y2="620.4" stroke="#3BB54A" stroke-width="1.6"/>
<line x1="229.7" y1="625.8" x2="237.7" y2="625.8" stroke="#3BB54A" stroke-width="1.6"/>
<text transform="translate(190.5 648.2) rotate(-42)" font-size="9.6" text-anchor="end" textLength="13.0" lengthAdjust="spacingAndGlyphs" stroke="#000" stroke-width="0.22">EV</text>
<text transform="translate(216.5 648.2) rotate(-42)" font-size="9.6" text-anchor="end" textLength="46.5" lengthAdjust="spacingAndGlyphs" stroke="#000" stroke-width="0.22">ARHGEF2</text>
<text transform="translate(241.5 648.2) rotate(-42)" font-size="9.6" text-anchor="end" textLength="54.5" lengthAdjust="spacingAndGlyphs" stroke="#000" stroke-width="0.22">RHOA Q63L</text>
<text x="305.7" y="510.6" font-size="12" textLength="46.6" lengthAdjust="spacingAndGlyphs" stroke="#000" stroke-width="0.22">Myeloid</text>
<text x="305.7" y="523.4" font-size="9.7" textLength="46.6" lengthAdjust="spacingAndGlyphs" stroke="#000" stroke-width="0.22">p = 0.007</text>
<text x="328.9" y="534.0" font-size="8.5" text-anchor="middle" textLength="7.5" lengthAdjust="spacingAndGlyphs" stroke="#000" stroke-width="0.22">**</text>
<path d="M303.6 536.2V531.9H357.2V544.8" fill="none" stroke="#1a1a1a" stroke-width="1"/>
<text x="295.8" y="546.8" font-size="9.7" textLength="47.1" lengthAdjust="spacingAndGlyphs" stroke="#000" stroke-width="0.22">p = 0.025</text>
<text x="317.3" y="553.4" font-size="8.5" text-anchor="middle" stroke="#000" stroke-width="0.22">*</text>
<path d="M303.6 573.5V550.8H331V554.8" fill="none" stroke="#1a1a1a" stroke-width="1"/>
<line x1="287.4" y1="540.8" x2="290.4" y2="540.8" stroke="#000" stroke-width="1.6"/>
<text x="286.6" y="544.4" font-size="10" text-anchor="end" textLength="13.3" lengthAdjust="spacingAndGlyphs" stroke="#000" stroke-width="0.22">90</text>
<line x1="287.4" y1="560.2" x2="290.4" y2="560.2" stroke="#000" stroke-width="1.6"/>
<text x="286.6" y="563.8" font-size="10" text-anchor="end" textLength="13.3" lengthAdjust="spacingAndGlyphs" stroke="#000" stroke-width="0.22">80</text>
<line x1="287.4" y1="579.5" x2="290.4" y2="579.5" stroke="#000" stroke-width="1.6"/>
<text x="286.6" y="583.1" font-size="10" text-anchor="end" textLength="13.3" lengthAdjust="spacingAndGlyphs" stroke="#000" stroke-width="0.22">70</text>
<line x1="287.4" y1="598.7" x2="290.4" y2="598.7" stroke="#000" stroke-width="1.6"/>
<text x="286.6" y="602.3" font-size="10" text-anchor="end" textLength="13.3" lengthAdjust="spacingAndGlyphs" stroke="#000" stroke-width="0.22">60</text>
<line x1="287.4" y1="618.0" x2="290.4" y2="618.0" stroke="#000" stroke-width="1.6"/>
<text x="286.6" y="621.6" font-size="10" text-anchor="end" textLength="13.3" lengthAdjust="spacingAndGlyphs" stroke="#000" stroke-width="0.22">50</text>
<line x1="287.4" y1="636.9" x2="290.4" y2="636.9" stroke="#000" stroke-width="1.6"/>
<text x="286.6" y="640.5" font-size="10" text-anchor="end" textLength="13.3" lengthAdjust="spacingAndGlyphs" stroke="#000" stroke-width="0.22">40</text>
<path d="M290.4 539.8V636.9H368.6" fill="none" stroke="#000" stroke-width="1.8"/>
<line x1="303.5" y1="636.9" x2="303.5" y2="640.7" stroke="#000" stroke-width="1.6"/>
<line x1="329.7" y1="636.9" x2="329.7" y2="640.7" stroke="#000" stroke-width="1.6"/>
<line x1="355.6" y1="636.9" x2="355.6" y2="640.7" stroke="#000" stroke-width="1.6"/>
<text transform="translate(262.6 588.0) rotate(-90)" font-size="12.5" text-anchor="middle" textLength="78.0" lengthAdjust="spacingAndGlyphs" stroke="#000" stroke-width="0.42">% Gr-1+ of BFP+</text>
<circle cx="302.4" cy="581.8" r="1.5" fill="#BE1E37"/>
<circle cx="305.4" cy="581.8" r="1.5" fill="#BE1E37"/>
<circle cx="303.8" cy="599.2" r="1.5" fill="#BE1E37"/>
<circle cx="303.8" cy="621.2" r="1.5" fill="#BE1E37"/>
<circle cx="303.8" cy="590.3" r="2.1" fill="#BE1E37"/>
<line x1="303.8" y1="579.2" x2="303.8" y2="611.5" stroke="#BE1E37" stroke-width="1.6"/>
<line x1="294.9" y1="595.1" x2="312.8" y2="595.1" stroke="#BE1E37" stroke-width="1.6"/>
<line x1="299.2" y1="579.2" x2="308.4" y2="579.2" stroke="#BE1E37" stroke-width="1.6"/>
<line x1="299.2" y1="611.5" x2="308.4" y2="611.5" stroke="#BE1E37" stroke-width="1.6"/>
<rect x="329.7" y="560.0" width="3.2" height="3.2" fill="#1F5485"/>
<rect x="328.9" y="561.8" width="3.2" height="3.2" fill="#1F5485"/>
<rect x="328.9" y="569.6" width="3.2" height="3.2" fill="#1F5485"/>
<line x1="330.5" y1="560.0" x2="330.5" y2="571.5" stroke="#1F5485" stroke-width="1.6"/>
<line x1="321.5" y1="565.4" x2="339.5" y2="565.4" stroke="#1F5485" stroke-width="1.6"/>
<line x1="326.2" y1="560.0" x2="334.8" y2="560.0" stroke="#1F5485" stroke-width="1.6"/>
<line x1="326.2" y1="571.5" x2="334.8" y2="571.5" stroke="#1F5485" stroke-width="1.6"/>
<path d="M353.3 550.8L356.5 556.6L350.1 556.6Z" fill="#3BB54A" stroke="none" stroke-width="1"/>
<path d="M361.3 550.8L364.5 556.6L358.1 556.6Z" fill="#3BB54A" stroke="none" stroke-width="1"/>
<path d="M357.2 555.1L360.4 560.9L354.0 560.9Z" fill="#3BB54A" stroke="none" stroke-width="1"/>
<path d="M357.2 570.4L360.4 576.2L354.0 576.2Z" fill="#3BB54A" stroke="none" stroke-width="1"/>
<line x1="357.2" y1="551.5" x2="357.2" y2="570.0" stroke="#3BB54A" stroke-width="1.6"/>
<line x1="348.1" y1="560.5" x2="366.3" y2="560.5" stroke="#3BB54A" stroke-width="1.6"/>
<line x1="352.5" y1="551.5" x2="361.9" y2="551.5" stroke="#3BB54A" stroke-width="1.6"/>
<line x1="352.5" y1="570.0" x2="361.9" y2="570.0" stroke="#3BB54A" stroke-width="1.6"/>
<text transform="translate(308.5 648.2) rotate(-42)" font-size="9.6" text-anchor="end" textLength="13.0" lengthAdjust="spacingAndGlyphs" stroke="#000" stroke-width="0.22">EV</text>
<text transform="translate(335.5 648.2) rotate(-42)" font-size="9.6" text-anchor="end" textLength="46.5" lengthAdjust="spacingAndGlyphs" stroke="#000" stroke-width="0.22">ARHGEF2</text>
<text transform="translate(362.0 648.2) rotate(-42)" font-size="9.6" text-anchor="end" textLength="54.5" lengthAdjust="spacingAndGlyphs" stroke="#000" stroke-width="0.22">RHOA Q63L</text>
<text x="386.2" y="512.5" font-size="17" font-weight="bold" stroke="#000" stroke-width="0.3">F</text>
<rect x="443.3" y="536.2" width="24.8" height="97.0" fill="#BE1E37"/>
<rect x="479.0" y="542.1" width="24.4" height="91.0" fill="#1F5485"/>
<rect x="438.3" y="527.4" width="70.9" height="105.2" fill="none" stroke="#000" stroke-width="1.9"/>
<line x1="433.4" y1="537.2" x2="437.9" y2="537.2" stroke="#000" stroke-width="1.6"/>
<text x="432.4" y="541.0" font-size="10.6" text-anchor="end" textLength="33.7" lengthAdjust="spacingAndGlyphs" stroke="#000" stroke-width="0.22">100 %</text>
<line x1="433.4" y1="584.5" x2="437.9" y2="584.5" stroke="#000" stroke-width="1.6"/>
<text x="432.4" y="588.3" font-size="10.6" text-anchor="end" textLength="27.1" lengthAdjust="spacingAndGlyphs" stroke="#000" stroke-width="0.22">50 %</text>
<line x1="433.4" y1="632.4" x2="437.9" y2="632.4" stroke="#000" stroke-width="1.6"/>
<text x="432.4" y="636.2" font-size="10.6" text-anchor="end" textLength="20.5" lengthAdjust="spacingAndGlyphs" stroke="#000" stroke-width="0.22">0 %</text>
<line x1="455.4" y1="632.9" x2="455.4" y2="636.2" stroke="#000" stroke-width="1.6"/>
<line x1="491.2" y1="632.9" x2="491.2" y2="636.2" stroke="#000" stroke-width="1.6"/>
<text x="482.3" y="540.6" font-size="9" textLength="17.5" lengthAdjust="spacingAndGlyphs" stroke="#000" stroke-width="0.22">n.s.</text>
<text transform="translate(396.2 587.7) rotate(-90)" font-size="12.8" text-anchor="middle" textLength="99.7" lengthAdjust="spacingAndGlyphs" stroke="#000" stroke-width="0.42">% Mononucleated cells</text>
<text transform="translate(460.5 645.0) rotate(-45)" font-size="9.8" text-anchor="end" textLength="16.0" lengthAdjust="spacingAndGlyphs" stroke="#000" stroke-width="0.22">WT</text>
<text transform="translate(495.0 644.6) rotate(-43)" font-size="9.8" text-anchor="end" textLength="63.0" lengthAdjust="spacingAndGlyphs" stroke="#000" stroke-width="0.22">ARHGEF2<tspan dy="-3.2" font-size="6.5">-/-</tspan></text>
<text x="9.8" y="717.3" font-size="17" font-weight="bold" stroke="#000" stroke-width="0.3">G</text>
<text x="85.4" y="715.8" font-size="12.8" textLength="93.5" lengthAdjust="spacingAndGlyphs" stroke="#000" stroke-width="0.22">Arhgef2<tspan dy="-4" font-size="9">+/+</tspan><tspan dy="4"> LSK</tspan></text>
<text x="239.8" y="715.9" font-size="12.8" textLength="87.4" lengthAdjust="spacingAndGlyphs" stroke="#000" stroke-width="0.22">Arhgef2<tspan dy="-4" font-size="9">-/-</tspan><tspan dy="4"> LSK</tspan></text>
<rect x="52.3" y="722.1" width="156.0" height="3.5" fill="#000"/>
<rect x="213.8" y="723.3" width="142.6" height="1.8" fill="#000"/>
<line x1="44.9" y1="735.0" x2="44.9" y2="880.0" stroke="#000" stroke-width="1.8"/>
<path d="M44.9 729.3L40.9 737.8L44.9 736L48.9 737.8Z" fill="#000" stroke="none" stroke-width="1"/>
<text x="42.4" y="891.2" font-size="11.4" textLength="7.0" lengthAdjust="spacingAndGlyphs" stroke="#000" stroke-width="0.22">Z</text>
<text x="51.0" y="898.8" font-size="11.4" textLength="7.6" lengthAdjust="spacingAndGlyphs" stroke="#000" stroke-width="0.22">X</text>
<line x1="59.2" y1="895.6" x2="352.0" y2="895.6" stroke="#000" stroke-width="1.9"/>
<path d="M358.2 895.6L349.8 891.6L351.6 895.6L349.8 899.6Z" fill="#000" stroke="none" stroke-width="1"/>
<filter id="grain" x="0" y="0" width="100%" height="100%"><feTurbulence type="fractalNoise" baseFrequency="0.5 0.18" numOctaves="2" seed="7"/><feColorMatrix type="matrix" values="0 0 0 0 0  0 0 0 0 0  0 0 0 0 0  1.6 0 0 0 -0.55"/></filter>
<rect x="52.3" y="732.0" width="156.5" height="157.8" fill="#8a8a8a"/>
<clipPath id="c1"><rect x="52.3" y="732.0" width="77.7" height="52.6"/></clipPath>
<rect x="52.3" y="732.0" width="77.7" height="52.6" fill="#000"/>
<g clip-path="url(#c1)">
<ellipse cx="72.0" cy="759.0" rx="17.0" ry="21.0" transform="rotate(0 72.0 759.0)" fill="#5c080c" opacity="0.95" filter="url(#b2)"/>
<ellipse cx="111.0" cy="758.0" rx="17.0" ry="21.0" transform="rotate(0 111.0 758.0)" fill="#5c080c" opacity="0.95" filter="url(#b2)"/>
<ellipse cx="91.0" cy="765.0" rx="14.0" ry="12.0" transform="rotate(0 91.0 765.0)" fill="#5c080c" opacity="0.9" filter="url(#b2)"/>
<ellipse cx="90.0" cy="761.0" rx="15.0" ry="5.5" transform="rotate(12 90.0 761.0)" fill="#e8152a" opacity="0.95" filter="url(#b1)"/>
<ellipse cx="76.0" cy="760.0" rx="4.0" ry="5.0" transform="rotate(0 76.0 760.0)" fill="#e8152a" opacity="0.85" filter="url(#b1)"/>
<ellipse cx="116.0" cy="756.0" rx="2.5" ry="4.5" transform="rotate(0 116.0 756.0)" fill="#e8152a" opacity="0.9" filter="url(#b1)"/>
<ellipse cx="79.0" cy="750.0" rx="5.5" ry="7.1" transform="rotate(-20 79.0 750.0)" fill="#2ad050" opacity="1" filter="url(#b1)"/>
<ellipse cx="76.5" cy="761.0" rx="4.3" ry="7.1" transform="rotate(10 76.5 761.0)" fill="#2ad050" opacity="0.95" filter="url(#b1)"/>
<ellipse cx="70.5" cy="772.0" rx="6.1" ry="6.5" transform="rotate(0 70.5 772.0)" fill="#2ad050" opacity="0.95" filter="url(#b1)"/>
<ellipse cx="108.5" cy="748.5" rx="4.6" ry="7.1" transform="rotate(-10 108.5 748.5)" fill="#2ad050" opacity="1" filter="url(#b1)"/>
<ellipse cx="109.0" cy="766.0" rx="4.9" ry="5.9" transform="rotate(0 109.0 766.0)" fill="#2ad050" opacity="0.95" filter="url(#b1)"/>
<ellipse cx="107.5" cy="774.0" rx="5.5" ry="7.1" transform="rotate(0 107.5 774.0)" fill="#2ad050" opacity="0.95" filter="url(#b1)"/>
</g>
<clipPath id="c2"><rect x="131.2" y="732.0" width="77.6" height="52.6"/></clipPath>
<rect x="131.2" y="732.0" width="77.6" height="52.6" fill="#000"/>
<g clip-path="url(#c2)">
<ellipse cx="152.0" cy="761.0" rx="15.0" ry="18.0" transform="rotate(0 152.0 761.0)" fill="#585858" opacity="0.9" filter="url(#b2)"/>
<ellipse cx="188.5" cy="759.0" rx="15.0" ry="18.0" transform="rotate(0 188.5 759.0)" fill="#585858" opacity="0.9" filter="url(#b2)"/>
<ellipse cx="170.0" cy="761.0" rx="13.0" ry="8.0" transform="rotate(0 170.0 761.0)" fill="#8a8a8a" opacity="0.9" filter="url(#b2)"/>
<ellipse cx="170.0" cy="739.0" rx="7.0" ry="9.0" transform="rotate(0 170.0 739.0)" fill="#000" opacity="0.85" filter="url(#b2)"/>
<ellipse cx="170.0" cy="784.0" rx="7.0" ry="8.0" transform="rotate(0 170.0 784.0)" fill="#000" opacity="0.85" filter="url(#b2)"/>
<ellipse cx="171.0" cy="760.5" rx="10.0" ry="3.6" transform="rotate(0 171.0 760.5)" fill="#f0f0f0" opacity="0.95" filter="url(#b1)"/>
<ellipse cx="151.0" cy="760.0" rx="3.5" ry="5.0" transform="rotate(0 151.0 760.0)" fill="#bbb" opacity="0.8" filter="url(#b1)"/>
<ellipse cx="193.0" cy="753.0" rx="2.0" ry="4.5" transform="rotate(0 193.0 753.0)" fill="#ddd" opacity="0.85" filter="url(#b1)"/>
<ellipse cx="183.0" cy="757.0" rx="4.0" ry="6.0" transform="rotate(0 183.0 757.0)" fill="#999" opacity="0.6" filter="url(#b1)"/>
</g>
<clipPath id="c3"><rect x="52.3" y="785.6" width="77.7" height="46.0"/></clipPath>
<rect x="52.3" y="785.6" width="77.7" height="46.0" fill="#000"/>
<g clip-path="url(#c3)">
<ellipse cx="72.0" cy="808.0" rx="17.0" ry="19.0" transform="rotate(0 72.0 808.0)" fill="#5c080c" opacity="0.9" filter="url(#b2)"/>
<ellipse cx="112.0" cy="806.5" rx="17.0" ry="19.0" transform="rotate(0 112.0 806.5)" fill="#5c080c" opacity="0.9" filter="url(#b2)"/>
<ellipse cx="91.0" cy="811.0" rx="14.0" ry="12.0" transform="rotate(0 91.0 811.0)" fill="#5c080c" opacity="0.85" filter="url(#b2)"/>
<ellipse cx="90.0" cy="806.5" rx="13.0" ry="4.5" transform="rotate(0 90.0 806.5)" fill="#e8152a" opacity="0.9" filter="url(#b1)"/>
<ellipse cx="78.5" cy="806.5" rx="3.0" ry="4.0" transform="rotate(0 78.5 806.5)" fill="#e8152a" opacity="0.9" filter="url(#b1)"/>
<ellipse cx="104.0" cy="805.0" rx="3.0" ry="4.0" transform="rotate(0 104.0 805.0)" fill="#e8152a" opacity="0.9" filter="url(#b1)"/>
<ellipse cx="81.0" cy="799.0" rx="5.1" ry="7.7" transform="rotate(15 81.0 799.0)" fill="#b4d830" opacity="1" filter="url(#b1)"/>
<ellipse cx="97.5" cy="797.5" rx="6.1" ry="7.7" transform="rotate(-10 97.5 797.5)" fill="#b4d830" opacity="1" filter="url(#b1)"/>
<ellipse cx="79.5" cy="814.5" rx="5.1" ry="5.7" transform="rotate(0 79.5 814.5)" fill="#b4d830" opacity="0.95" filter="url(#b1)"/>
<ellipse cx="100.5" cy="813.0" rx="6.1" ry="6.5" transform="rotate(0 100.5 813.0)" fill="#b4d830" opacity="0.95" filter="url(#b1)"/>
</g>
<clipPath id="c4"><rect x="131.2" y="785.6" width="77.6" height="46.0"/></clipPath>
<rect x="131.2" y="785.6" width="77.6" height="46.0" fill="#000"/>
<g clip-path="url(#c4)">
<ellipse cx="149.0" cy="809.0" rx="16.0" ry="19.0" transform="rotate(0 149.0 809.0)" fill="#585858" opacity="0.9" filter="url(#b2)"/>
<ellipse cx="191.0" cy="807.0" rx="16.0" ry="19.0" transform="rotate(0 191.0 807.0)" fill="#585858" opacity="0.9" filter="url(#b2)"/>
<ellipse cx="170.0" cy="809.0" rx="15.0" ry="8.0" transform="rotate(0 170.0 809.0)" fill="#858585" opacity="0.9" filter="url(#b2)"/>
<ellipse cx="170.0" cy="830.0" rx="8.0" ry="7.0" transform="rotate(0 170.0 830.0)" fill="#000" opacity="0.85" filter="url(#b2)"/>
<ellipse cx="170.0" cy="787.0" rx="5.0" ry="4.0" transform="rotate(0 170.0 787.0)" fill="#000" opacity="0.6" filter="url(#b2)"/>
<ellipse cx="166.0" cy="796.0" rx="8.0" ry="4.0" transform="rotate(0 166.0 796.0)" fill="#888" opacity="0.7" filter="url(#b2)"/>
<ellipse cx="167.0" cy="806.5" rx="14.0" ry="2.8" transform="rotate(-3 167.0 806.5)" fill="#e8e8e8" opacity="0.9" filter="url(#b1)"/>
<ellipse cx="153.0" cy="806.6" rx="2.6" ry="3.2" transform="rotate(0 153.0 806.6)" fill="#fff" opacity="0.95" filter="url(#b1)"/>
<ellipse cx="182.5" cy="805.0" rx="2.4" ry="3.0" transform="rotate(0 182.5 805.0)" fill="#eee" opacity="0.9" filter="url(#b1)"/>
</g>
<clipPath id="c5"><rect x="52.3" y="832.8" width="77.7" height="57.0"/></clipPath>
<rect x="52.3" y="832.8" width="77.7" height="57.0" fill="#000"/>
<g clip-path="url(#c5)">
<ellipse cx="73.0" cy="856.0" rx="19.0" ry="23.0" transform="rotate(0 73.0 856.0)" fill="#5c080c" opacity="0.95" filter="url(#b2)"/>
<ellipse cx="111.0" cy="855.0" rx="19.0" ry="23.0" transform="rotate(0 111.0 855.0)" fill="#5c080c" opacity="0.95" filter="url(#b2)"/>
<ellipse cx="92.0" cy="858.0" rx="16.0" ry="18.0" transform="rotate(0 92.0 858.0)" fill="#5c080c" opacity="0.9" filter="url(#b2)"/>
<ellipse cx="79.0" cy="856.0" rx="4.5" ry="5.0" transform="rotate(0 79.0 856.0)" fill="#e8152a" opacity="0.95" filter="url(#b1)"/>
<ellipse cx="105.5" cy="855.5" rx="4.5" ry="5.5" transform="rotate(0 105.5 855.5)" fill="#e8152a" opacity="0.95" filter="url(#b1)"/>
<ellipse cx="92.0" cy="853.0" rx="8.0" ry="5.0" transform="rotate(0 92.0 853.0)" fill="#e8152a" opacity="0.7" filter="url(#b1)"/>
<ellipse cx="82.5" cy="847.0" rx="5.5" ry="10.6" transform="rotate(12 82.5 847.0)" fill="#b4d830" opacity="1" filter="url(#b1)"/>
<ellipse cx="84.0" cy="862.0" rx="4.4" ry="7.1" transform="rotate(0 84.0 862.0)" fill="#b4d830" opacity="0.9" filter="url(#b1)"/>
<ellipse cx="101.0" cy="847.5" rx="5.5" ry="11.2" transform="rotate(-8 101.0 847.5)" fill="#b4d830" opacity="1" filter="url(#b1)"/>
<ellipse cx="99.0" cy="864.0" rx="4.3" ry="6.5" transform="rotate(0 99.0 864.0)" fill="#b4d830" opacity="0.9" filter="url(#b1)"/>
</g>
<clipPath id="c6"><rect x="131.2" y="832.8" width="77.6" height="57.0"/></clipPath>
<rect x="131.2" y="832.8" width="77.6" height="57.0" fill="#000"/>
<g clip-path="url(#c6)">
<ellipse cx="150.0" cy="855.0" rx="18.0" ry="22.0" transform="rotate(0 150.0 855.0)" fill="#585858" opacity="0.9" filter="url(#b2)"/>
<ellipse cx="189.0" cy="854.0" rx="18.0" ry="22.0" transform="rotate(0 189.0 854.0)" fill="#585858" opacity="0.9" filter="url(#b2)"/>
<ellipse cx="170.0" cy="856.0" rx="22.0" ry="14.0" transform="rotate(0 170.0 856.0)" fill="#858585" opacity="0.9" filter="url(#b2)"/>
<ellipse cx="170.0" cy="836.0" rx="6.0" ry="6.0" transform="rotate(0 170.0 836.0)" fill="#000" opacity="0.8" filter="url(#b2)"/>
<ellipse cx="170.0" cy="886.0" rx="7.0" ry="7.0" transform="rotate(0 170.0 886.0)" fill="#000" opacity="0.8" filter="url(#b2)"/>
<ellipse cx="170.0" cy="849.0" rx="12.0" ry="7.0" transform="rotate(0 170.0 849.0)" fill="#a0a0a0" opacity="0.8" filter="url(#b2)"/>
<ellipse cx="153.0" cy="855.8" rx="3.4" ry="3.8" transform="rotate(0 153.0 855.8)" fill="#fff" opacity="0.95" filter="url(#b1)"/>
<ellipse cx="191.5" cy="855.8" rx="3.2" ry="4.0" transform="rotate(0 191.5 855.8)" fill="#fff" opacity="0.95" filter="url(#b1)"/>
<ellipse cx="172.0" cy="856.0" rx="16.0" ry="2.5" transform="rotate(0 172.0 856.0)" fill="#ccc" opacity="0.8" filter="url(#b1)"/>
</g>
<text x="55.6" y="878.5" font-size="6" textLength="30.5" lengthAdjust="spacingAndGlyphs" fill="#35c868">H2B-EGFP</text>
<text x="55.6" y="885.4" font-size="6" textLength="61.0" lengthAdjust="spacingAndGlyphs" fill="#f02a24">mCherry-alpha-tubulin</text>
<rect x="214.7" y="732.0" width="141.6" height="157.8" fill="#ececec"/>
<clipPath id="c7"><rect x="214.7" y="732.0" width="70.5" height="46.6"/></clipPath>
<rect x="214.7" y="732.0" width="70.5" height="46.6" fill="#000"/>
<g clip-path="url(#c7)">
<ellipse cx="236.0" cy="754.0" rx="19.0" ry="22.0" transform="rotate(0 236.0 754.0)" fill="#850d14" opacity="0.95" filter="url(#b2)"/>
<ellipse cx="267.5" cy="753.0" rx="19.0" ry="22.0" transform="rotate(0 267.5 753.0)" fill="#850d14" opacity="0.95" filter="url(#b2)"/>
<ellipse cx="252.0" cy="758.0" rx="14.0" ry="12.0" transform="rotate(0 252.0 758.0)" fill="#850d14" opacity="0.9" filter="url(#b2)"/>
<ellipse cx="252.0" cy="754.0" rx="10.0" ry="4.0" transform="rotate(0 252.0 754.0)" fill="#e8152a" opacity="0.85" filter="url(#b1)"/>
<ellipse cx="231.5" cy="757.0" rx="3.0" ry="4.0" transform="rotate(0 231.5 757.0)" fill="#e8152a" opacity="0.85" filter="url(#b1)"/>
<ellipse cx="272.0" cy="755.5" rx="3.0" ry="4.5" transform="rotate(0 272.0 755.5)" fill="#e8152a" opacity="0.9" filter="url(#b1)"/>
<ellipse cx="240.0" cy="745.0" rx="6.7" ry="7.7" transform="rotate(0 240.0 745.0)" fill="#2ad050" opacity="1" filter="url(#b1)"/>
<ellipse cx="239.0" cy="756.0" rx="5.5" ry="9.4" transform="rotate(-8 239.0 756.0)" fill="#2ad050" opacity="1" filter="url(#b1)"/>
<ellipse cx="238.0" cy="766.0" rx="4.9" ry="5.9" transform="rotate(0 238.0 766.0)" fill="#2ad050" opacity="0.9" filter="url(#b1)"/>
<ellipse cx="265.0" cy="745.5" rx="5.5" ry="6.5" transform="rotate(0 265.0 745.5)" fill="#2ad050" opacity="1" filter="url(#b1)"/>
<ellipse cx="266.0" cy="759.0" rx="5.5" ry="9.4" transform="rotate(-5 266.0 759.0)" fill="#2ad050" opacity="1" filter="url(#b1)"/>
</g>
<clipPath id="c8"><rect x="286.7" y="732.0" width="69.6" height="46.6"/></clipPath>
<rect x="286.7" y="732.0" width="69.6" height="46.6" fill="#000"/>
<g clip-path="url(#c8)">
<ellipse cx="306.0" cy="753.0" rx="17.0" ry="20.0" transform="rotate(0 306.0 753.0)" fill="#6e6e6e" opacity="0.95" filter="url(#b2)"/>
<ellipse cx="338.0" cy="752.0" rx="17.0" ry="20.0" transform="rotate(0 338.0 752.0)" fill="#6e6e6e" opacity="0.95" filter="url(#b2)"/>
<ellipse cx="322.0" cy="755.0" rx="22.0" ry="11.0" transform="rotate(0 322.0 755.0)" fill="#909090" opacity="0.8" filter="url(#b2)"/>
<ellipse cx="314.0" cy="750.0" rx="6.0" ry="3.6" transform="rotate(30 314.0 750.0)" fill="#e6e6e6" opacity="0.85" filter="url(#b1)"/>
<ellipse cx="331.0" cy="748.5" rx="3.0" ry="6.0" transform="rotate(-15 331.0 748.5)" fill="#e6e6e6" opacity="0.85" filter="url(#b1)"/>
<ellipse cx="322.0" cy="760.0" rx="5.0" ry="3.0" transform="rotate(0 322.0 760.0)" fill="#ccc" opacity="0.7" filter="url(#b1)"/>
<ellipse cx="306.0" cy="746.0" rx="3.5" ry="4.0" transform="rotate(0 306.0 746.0)" fill="#222" opacity="0.55" filter="url(#b1)"/>
<ellipse cx="338.0" cy="756.0" rx="4.0" ry="4.0" transform="rotate(0 338.0 756.0)" fill="#2a2a2a" opacity="0.5" filter="url(#b1)"/>
</g>
<clipPath id="c9"><rect x="214.7" y="780.2" width="70.5" height="50.6"/></clipPath>
<rect x="214.7" y="780.2" width="70.5" height="50.6" fill="#000"/>
<g clip-path="url(#c9)">
<ellipse cx="249.0" cy="805.5" rx="31.0" ry="22.0" transform="rotate(0 249.0 805.5)" fill="#850d14" opacity="0.95" filter="url(#b2)"/>
<ellipse cx="259.0" cy="801.0" rx="4.5" ry="5.5" transform="rotate(0 259.0 801.0)" fill="#e8152a" opacity="0.95" filter="url(#b1)"/>
<ellipse cx="240.0" cy="804.0" rx="6.0" ry="7.0" transform="rotate(0 240.0 804.0)" fill="#e8152a" opacity="0.8" filter="url(#b1)"/>
<ellipse cx="250.0" cy="800.0" rx="3.0" ry="3.0" transform="rotate(0 250.0 800.0)" fill="#e8152a" opacity="0.7" filter="url(#b1)"/>
<ellipse cx="256.0" cy="789.5" rx="5.9" ry="7.7" transform="rotate(10 256.0 789.5)" fill="#2ad050" opacity="1" filter="url(#b1)"/>
<ellipse cx="233.0" cy="795.0" rx="4.6" ry="7.1" transform="rotate(0 233.0 795.0)" fill="#b4d830" opacity="1" filter="url(#b1)"/>
<ellipse cx="239.0" cy="801.0" rx="4.9" ry="4.7" transform="rotate(0 239.0 801.0)" fill="#e6e030" opacity="0.9" filter="url(#b1)"/>
<ellipse cx="236.0" cy="815.5" rx="4.6" ry="6.5" transform="rotate(0 236.0 815.5)" fill="#b4d830" opacity="0.95" filter="url(#b1)"/>
<ellipse cx="262.0" cy="811.5" rx="4.9" ry="5.9" transform="rotate(0 262.0 811.5)" fill="#b4d830" opacity="0.95" filter="url(#b1)"/>
<ellipse cx="246.0" cy="792.0" rx="3.0" ry="3.5" transform="rotate(0 246.0 792.0)" fill="#b4d830" opacity="0.7" filter="url(#b1)"/>
</g>
<clipPath id="c10"><rect x="286.7" y="780.2" width="69.6" height="50.6"/></clipPath>
<rect x="286.7" y="780.2" width="69.6" height="50.6" fill="#000"/>
<g clip-path="url(#c10)">
<ellipse cx="322.0" cy="805.5" rx="30.0" ry="22.0" transform="rotate(0 322.0 805.5)" fill="#6e6e6e" opacity="0.95" filter="url(#b2)"/>
<ellipse cx="318.0" cy="804.0" rx="18.0" ry="11.0" transform="rotate(0 318.0 804.0)" fill="#8c8c8c" opacity="0.8" filter="url(#b2)"/>
<ellipse cx="318.0" cy="802.0" rx="20.0" ry="5.0" transform="rotate(-12 318.0 802.0)" fill="#aaa" opacity="0.7" filter="url(#b1)"/>
<ellipse cx="304.0" cy="804.0" rx="4.5" ry="3.0" transform="rotate(0 304.0 804.0)" fill="#fff" opacity="0.95" filter="url(#b1)"/>
<ellipse cx="333.0" cy="798.0" rx="2.2" ry="5.5" transform="rotate(10 333.0 798.0)" fill="#f0f0f0" opacity="0.9" filter="url(#b1)"/>
<ellipse cx="345.0" cy="790.0" rx="5.0" ry="4.0" transform="rotate(0 345.0 790.0)" fill="#333" opacity="0.5" filter="url(#b1)"/>
</g>
<clipPath id="c11"><rect x="214.7" y="832.8" width="70.5" height="57.0"/></clipPath>
<rect x="214.7" y="832.8" width="70.5" height="57.0" fill="#000"/>
<g clip-path="url(#c11)">
<ellipse cx="248.0" cy="861.5" rx="33.0" ry="27.0" transform="rotate(0 248.0 861.5)" fill="#850d14" opacity="0.95" filter="url(#b2)"/>
<ellipse cx="239.0" cy="853.0" rx="6.0" ry="6.0" transform="rotate(0 239.0 853.0)" fill="#e8152a" opacity="0.95" filter="url(#b1)"/>
<ellipse cx="257.5" cy="870.0" rx="5.0" ry="7.0" transform="rotate(0 257.5 870.0)" fill="#e8152a" opacity="0.95" filter="url(#b1)"/>
<ellipse cx="250.0" cy="862.0" rx="8.0" ry="5.0" transform="rotate(0 250.0 862.0)" fill="#e8152a" opacity="0.6" filter="url(#b1)"/>
<ellipse cx="240.5" cy="844.0" rx="9.2" ry="7.7" transform="rotate(0 240.5 844.0)" fill="#e6e030" opacity="1" filter="url(#b1)"/>
<ellipse cx="244.0" cy="850.0" rx="6.1" ry="4.7" transform="rotate(0 244.0 850.0)" fill="#b4d830" opacity="0.9" filter="url(#b1)"/>
<ellipse cx="232.0" cy="862.0" rx="5.9" ry="10.0" transform="rotate(15 232.0 862.0)" fill="#b4d830" opacity="1" filter="url(#b1)"/>
<ellipse cx="236.0" cy="853.0" rx="4.9" ry="5.9" transform="rotate(0 236.0 853.0)" fill="#e6e030" opacity="0.9" filter="url(#b1)"/>
<ellipse cx="263.5" cy="858.5" rx="5.9" ry="13.0" transform="rotate(5 263.5 858.5)" fill="#e6e030" opacity="1" filter="url(#b1)"/>
<ellipse cx="261.0" cy="873.5" rx="5.5" ry="5.9" transform="rotate(0 261.0 873.5)" fill="#b4d830" opacity="0.9" filter="url(#b1)"/>
</g>
<clipPath id="c12"><rect x="286.7" y="832.8" width="69.6" height="57.0"/></clipPath>
<rect x="286.7" y="832.8" width="69.6" height="57.0" fill="#000"/>
<g clip-path="url(#c12)">
<ellipse cx="322.0" cy="861.5" rx="30.0" ry="25.0" transform="rotate(0 322.0 861.5)" fill="#6e6e6e" opacity="0.95" filter="url(#b2)"/>
<ellipse cx="320.0" cy="860.0" rx="18.0" ry="13.0" transform="rotate(30 320.0 860.0)" fill="#8c8c8c" opacity="0.8" filter="url(#b2)"/>
<ellipse cx="320.0" cy="861.0" rx="20.0" ry="5.0" transform="rotate(32 320.0 861.0)" fill="#d8d8d8" opacity="0.85" filter="url(#b1)"/>
<ellipse cx="305.0" cy="852.5" rx="6.5" ry="5.5" transform="rotate(35 305.0 852.5)" fill="#fff" opacity="1" filter="url(#b1)"/>
<ellipse cx="335.5" cy="871.0" rx="3.8" ry="7.0" transform="rotate(-25 335.5 871.0)" fill="#fff" opacity="0.95" filter="url(#b1)"/>
<ellipse cx="312.0" cy="857.0" rx="5.0" ry="3.5" transform="rotate(32 312.0 857.0)" fill="#eee" opacity="0.8" filter="url(#b1)"/>
</g>
<text x="218.0" y="878.3" font-size="6" textLength="30.5" lengthAdjust="spacingAndGlyphs" fill="#35c868">H2B-EGFP</text>
<text x="218.0" y="885.5" font-size="6" textLength="60.5" lengthAdjust="spacingAndGlyphs" fill="#f02a24">mCherry-alpha-tubulin</text>
<rect x="52.3" y="732.0" width="156.5" height="157.8" fill="#000" filter="url(#grain)" opacity="0.75"/>
<rect x="214.7" y="732.0" width="141.6" height="157.8" fill="#000" filter="url(#grain)" opacity="0.6"/>
<rect x="130.0" y="732.0" width="1.2" height="157.8" fill="#c8c8c8"/>
<rect x="52.3" y="784.6" width="156.5" height="1.0" fill="#7a7a7a"/>
<rect x="52.3" y="831.6" width="156.5" height="1.2" fill="#8a8a8a"/>
<rect x="285.2" y="732.0" width="1.5" height="157.8" fill="#f2f2f2"/>
<rect x="214.7" y="778.6" width="141.6" height="1.6" fill="#f2f2f2"/>
<rect x="214.7" y="830.8" width="141.6" height="2.0" fill="#f2f2f2"/>
<line x1="131.2" y1="760.3" x2="208.8" y2="760.3" stroke="#ea2035" stroke-width="1.2" stroke-dasharray="1.3 1.2"/>
<line x1="150.0" y1="761.2" x2="205.5" y2="755.8" stroke="#F2D21B" stroke-width="1.1" stroke-dasharray="1.3 0.9"/>
<path d="M207.7 755.6L203.7 754.2L204.1 757.7Z" fill="#F2D21B" stroke="none" stroke-width="1"/>
<line x1="131.2" y1="808.2" x2="208.8" y2="808.2" stroke="#ea2035" stroke-width="1.2" stroke-dasharray="1.3 1.2"/>
<line x1="153.0" y1="808.2" x2="196.0" y2="804.7" stroke="#F2D21B" stroke-width="1.1" stroke-dasharray="1.3 0.9"/>
<path d="M198.2 804.5L194.3 803.0L194.6 806.6Z" fill="#F2D21B" stroke="none" stroke-width="1"/>
<line x1="131.2" y1="855.8" x2="208.8" y2="855.8" stroke="#ea2035" stroke-width="1.2" stroke-dasharray="1.3 1.2"/>
<line x1="152.0" y1="855.8" x2="192.5" y2="855.8" stroke="#F2D21B" stroke-width="1.1" stroke-dasharray="1.3 0.9"/>
<path d="M194.7 855.8L190.9 854.0L190.9 857.6Z" fill="#F2D21B" stroke="none" stroke-width="1"/>
<path d="M149.8 855.8L153.6 857.6L153.6 854.0Z" fill="#F2D21B" stroke="none" stroke-width="1"/>
<line x1="286.7" y1="757.4" x2="356.3" y2="757.4" stroke="#ea2035" stroke-width="1.1" stroke-dasharray="3 2"/>
<line x1="316.7" y1="756.8" x2="349.5" y2="753.6" stroke="#F2D21B" stroke-width="1.1" stroke-dasharray="3 2"/>
<path d="M351.7 753.4L347.7 752.0L348.1 755.5Z" fill="#F2D21B" stroke="none" stroke-width="1"/>
<line x1="286.7" y1="805.3" x2="356.3" y2="805.3" stroke="#ea2035" stroke-width="1.1" stroke-dasharray="3 2"/>
<line x1="305.2" y1="805.3" x2="350.3" y2="796.9" stroke="#F2D21B" stroke-width="1.1" stroke-dasharray="3 2"/>
<path d="M352.5 796.5L348.4 795.4L349.1 799.0Z" fill="#F2D21B" stroke="none" stroke-width="1"/>
<line x1="286.7" y1="854.3" x2="356.3" y2="854.3" stroke="#ea2035" stroke-width="1.1" stroke-dasharray="3 2"/>
<line x1="306.6" y1="855.8" x2="344.0" y2="874.5" stroke="#F2D21B" stroke-width="1.1" stroke-dasharray="3 2"/>
<path d="M346.0 875.5L343.4 872.2L341.8 875.4Z" fill="#F2D21B" stroke="none" stroke-width="1"/>
<text x="385.7" y="716.9" font-size="17" font-weight="bold" stroke="#000" stroke-width="0.3">H</text>
<line x1="428.1" y1="725.0" x2="433.5" y2="725.0" stroke="#000" stroke-width="1.6"/>
<text x="425.9" y="728.9" font-size="10.8" text-anchor="end" textLength="13.8" lengthAdjust="spacingAndGlyphs" stroke="#000" stroke-width="0.22">80</text>
<line x1="428.1" y1="758.0" x2="433.5" y2="758.0" stroke="#000" stroke-width="1.6"/>
<text x="425.9" y="761.9" font-size="10.8" text-anchor="end" textLength="13.8" lengthAdjust="spacingAndGlyphs" stroke="#000" stroke-width="0.22">60</text>
<line x1="428.1" y1="790.6" x2="433.5" y2="790.6" stroke="#000" stroke-width="1.6"/>
<text x="425.9" y="794.5" font-size="10.8" text-anchor="end" textLength="13.8" lengthAdjust="spacingAndGlyphs" stroke="#000" stroke-width="0.22">40</text>
<line x1="428.1" y1="823.5" x2="433.5" y2="823.5" stroke="#000" stroke-width="1.6"/>
<text x="425.9" y="827.4" font-size="10.8" text-anchor="end" textLength="13.8" lengthAdjust="spacingAndGlyphs" stroke="#000" stroke-width="0.22">20</text>
<line x1="428.1" y1="856.3" x2="433.5" y2="856.3" stroke="#000" stroke-width="1.6"/>
<text x="425.9" y="860.2" font-size="10.8" text-anchor="end" textLength="6.9" lengthAdjust="spacingAndGlyphs" stroke="#000" stroke-width="0.22">0</text>
<path d="M433.5 724.1V856.3H492.6" fill="none" stroke="#000" stroke-width="1.9"/>
<text x="443.6" y="728.0" font-size="10" textLength="53.3" lengthAdjust="spacingAndGlyphs" stroke="#000" stroke-width="0.22">p = 0.0003</text>
<text x="462.9" y="740.6" font-size="8.5" text-anchor="middle" textLength="11.5" lengthAdjust="spacingAndGlyphs" stroke="#000" stroke-width="0.22">***</text>
<path d="M447.3 797.5V741H476.7V749" fill="none" stroke="#1a1a1a" stroke-width="0.9"/>
<text transform="translate(391.0 795.9) rotate(-90)" font-size="12.3" text-anchor="middle" textLength="71.0" lengthAdjust="spacingAndGlyphs" stroke="#000" stroke-width="0.42">Angle of division</text>
<text transform="translate(404.7 795.5) rotate(-90)" font-size="12.3" text-anchor="middle" textLength="134.4" lengthAdjust="spacingAndGlyphs" stroke="#000" stroke-width="0.42">(Relative to plane of Substrate)</text>
<circle cx="445.0" cy="798.3" r="1.55" fill="#BE1E37"/>
<circle cx="449.9" cy="799.8" r="1.55" fill="#BE1E37"/>
<circle cx="440.3" cy="815.0" r="1.55" fill="#BE1E37"/>
<circle cx="454.5" cy="815.0" r="1.55" fill="#BE1E37"/>
<circle cx="443.5" cy="820.0" r="1.55" fill="#BE1E37"/>
<circle cx="447.3" cy="820.0" r="1.55" fill="#BE1E37"/>
<circle cx="450.9" cy="820.0" r="1.55" fill="#BE1E37"/>
<circle cx="443.3" cy="828.2" r="1.55" fill="#BE1E37"/>
<circle cx="446.8" cy="828.2" r="1.55" fill="#BE1E37"/>
<circle cx="450.7" cy="828.2" r="1.55" fill="#BE1E37"/>
<circle cx="445.0" cy="833.1" r="1.55" fill="#BE1E37"/>
<circle cx="448.1" cy="833.1" r="1.55" fill="#BE1E37"/>
<circle cx="452.5" cy="833.1" r="1.55" fill="#BE1E37"/>
<circle cx="440.3" cy="836.3" r="1.55" fill="#BE1E37"/>
<circle cx="444.3" cy="836.3" r="1.55" fill="#BE1E37"/>
<circle cx="454.3" cy="837.0" r="1.55" fill="#BE1E37"/>
<circle cx="442.3" cy="839.6" r="1.55" fill="#BE1E37"/>
<circle cx="446.3" cy="839.0" r="1.55" fill="#BE1E37"/>
<circle cx="450.3" cy="839.6" r="1.55" fill="#BE1E37"/>
<circle cx="453.3" cy="840.3" r="1.55" fill="#BE1E37"/>
<circle cx="438.6" cy="842.9" r="1.55" fill="#BE1E37"/>
<circle cx="441.5" cy="842.9" r="1.55" fill="#BE1E37"/>
<circle cx="444.4" cy="842.9" r="1.55" fill="#BE1E37"/>
<circle cx="447.3" cy="842.9" r="1.55" fill="#BE1E37"/>
<circle cx="450.2" cy="842.9" r="1.55" fill="#BE1E37"/>
<circle cx="453.1" cy="842.9" r="1.55" fill="#BE1E37"/>
<circle cx="456.0" cy="842.9" r="1.55" fill="#BE1E37"/>
<circle cx="438.6" cy="845.5" r="1.55" fill="#BE1E37"/>
<circle cx="441.5" cy="845.5" r="1.55" fill="#BE1E37"/>
<circle cx="444.4" cy="845.5" r="1.55" fill="#BE1E37"/>
<circle cx="447.3" cy="845.5" r="1.55" fill="#BE1E37"/>
<circle cx="450.2" cy="845.5" r="1.55" fill="#BE1E37"/>
<circle cx="453.1" cy="845.5" r="1.55" fill="#BE1E37"/>
<circle cx="456.0" cy="845.5" r="1.55" fill="#BE1E37"/>
<circle cx="440.1" cy="848.1" r="1.55" fill="#BE1E37"/>
<circle cx="442.9" cy="848.1" r="1.55" fill="#BE1E37"/>
<circle cx="451.7" cy="848.1" r="1.55" fill="#BE1E37"/>
<circle cx="454.6" cy="848.1" r="1.55" fill="#BE1E37"/>
<circle cx="440.1" cy="850.8" r="1.55" fill="#BE1E37"/>
<circle cx="442.9" cy="850.8" r="1.55" fill="#BE1E37"/>
<circle cx="451.7" cy="850.8" r="1.55" fill="#BE1E37"/>
<circle cx="454.6" cy="850.8" r="1.55" fill="#BE1E37"/>
<circle cx="441.5" cy="853.1" r="1.55" fill="#BE1E37"/>
<circle cx="444.4" cy="853.1" r="1.55" fill="#BE1E37"/>
<circle cx="447.3" cy="853.1" r="1.55" fill="#BE1E37"/>
<circle cx="450.2" cy="853.1" r="1.55" fill="#BE1E37"/>
<circle cx="453.1" cy="853.1" r="1.55" fill="#BE1E37"/>
<line x1="437.8" y1="842.2" x2="457.0" y2="842.2" stroke="#BE1E37" stroke-width="1.3"/>
<rect x="475.1" y="752.4" width="3.1" height="3.1" fill="#1F5485"/>
<rect x="472.3" y="769.3" width="3.1" height="3.1" fill="#1F5485"/>
<rect x="477.8" y="769.3" width="3.1" height="3.1" fill="#1F5485"/>
<rect x="475.1" y="777.0" width="3.1" height="3.1" fill="#1F5485"/>
<rect x="469.8" y="780.4" width="3.1" height="3.1" fill="#1F5485"/>
<rect x="480.5" y="782.1" width="3.1" height="3.1" fill="#1F5485"/>
<rect x="475.1" y="783.7" width="3.1" height="3.1" fill="#1F5485"/>
<rect x="468.5" y="792.9" width="3.1" height="3.1" fill="#1F5485"/>
<rect x="481.8" y="792.9" width="3.1" height="3.1" fill="#1F5485"/>
<rect x="470.8" y="795.5" width="3.1" height="3.1" fill="#1F5485"/>
<rect x="479.3" y="795.5" width="3.1" height="3.1" fill="#1F5485"/>
<rect x="473.1" y="797.6" width="3.1" height="3.1" fill="#1F5485"/>
<rect x="476.9" y="797.6" width="3.1" height="3.1" fill="#1F5485"/>
<rect x="475.1" y="799.7" width="3.1" height="3.1" fill="#1F5485"/>
<rect x="477.8" y="805.3" width="3.1" height="3.1" fill="#1F5485"/>
<rect x="469.8" y="808.6" width="3.1" height="3.1" fill="#1F5485"/>
<rect x="472.8" y="813.5" width="3.1" height="3.1" fill="#1F5485"/>
<rect x="477.8" y="814.8" width="3.1" height="3.1" fill="#1F5485"/>
<rect x="469.8" y="816.8" width="3.1" height="3.1" fill="#1F5485"/>
<rect x="480.1" y="817.1" width="3.1" height="3.1" fill="#1F5485"/>
<rect x="475.1" y="821.7" width="3.1" height="3.1" fill="#1F5485"/>
<rect x="471.6" y="828.2" width="3.1" height="3.1" fill="#1F5485"/>
<rect x="478.6" y="828.2" width="3.1" height="3.1" fill="#1F5485"/>
<rect x="470.1" y="831.5" width="3.1" height="3.1" fill="#1F5485"/>
<rect x="475.1" y="831.5" width="3.1" height="3.1" fill="#1F5485"/>
<rect x="480.1" y="831.5" width="3.1" height="3.1" fill="#1F5485"/>
<rect x="472.1" y="834.8" width="3.1" height="3.1" fill="#1F5485"/>
<rect x="478.1" y="834.8" width="3.1" height="3.1" fill="#1F5485"/>
<rect x="472.8" y="839.7" width="3.1" height="3.1" fill="#1F5485"/>
<rect x="469.1" y="843.0" width="3.1" height="3.1" fill="#1F5485"/>
<rect x="481.1" y="843.0" width="3.1" height="3.1" fill="#1F5485"/>
<rect x="467.4" y="845.3" width="3.1" height="3.1" fill="#1F5485"/>
<rect x="470.5" y="845.3" width="3.1" height="3.1" fill="#1F5485"/>
<rect x="473.6" y="845.3" width="3.1" height="3.1" fill="#1F5485"/>
<rect x="476.7" y="845.3" width="3.1" height="3.1" fill="#1F5485"/>
<rect x="479.8" y="845.3" width="3.1" height="3.1" fill="#1F5485"/>
<rect x="482.9" y="845.3" width="3.1" height="3.1" fill="#1F5485"/>
<rect x="465.8" y="847.9" width="3.1" height="3.1" fill="#1F5485"/>
<rect x="468.9" y="847.9" width="3.1" height="3.1" fill="#1F5485"/>
<rect x="481.3" y="847.9" width="3.1" height="3.1" fill="#1F5485"/>
<rect x="484.4" y="847.9" width="3.1" height="3.1" fill="#1F5485"/>
<rect x="467.4" y="850.5" width="3.1" height="3.1" fill="#1F5485"/>
<rect x="470.5" y="850.5" width="3.1" height="3.1" fill="#1F5485"/>
<rect x="473.6" y="850.5" width="3.1" height="3.1" fill="#1F5485"/>
<rect x="476.7" y="850.5" width="3.1" height="3.1" fill="#1F5485"/>
<rect x="479.8" y="850.5" width="3.1" height="3.1" fill="#1F5485"/>
<rect x="482.9" y="850.5" width="3.1" height="3.1" fill="#1F5485"/>
<line x1="466.5" y1="827.2" x2="487.0" y2="827.2" stroke="#1F5485" stroke-width="1.3"/>
<line x1="471.5" y1="822.9" x2="481.9" y2="822.9" stroke="#1F5485" stroke-width="1.2"/>
<line x1="471.5" y1="831.4" x2="481.9" y2="831.4" stroke="#1F5485" stroke-width="1.2"/>
<rect x="415.6" y="873.6" width="5.2" height="5.2" fill="#BE1E37"/>
<rect x="415.6" y="888.6" width="5.2" height="5.2" fill="#1F5485"/>
<text x="426.2" y="879.8" font-size="10.3" textLength="73.0" lengthAdjust="spacingAndGlyphs" stroke="#000" stroke-width="0.22">Arhgef2<tspan dy="-3.4" font-size="7.6">+/+</tspan><tspan dy="3.4"> LSK</tspan></text>
<text x="426.2" y="894.7" font-size="10.3" textLength="68.7" lengthAdjust="spacingAndGlyphs" stroke="#000" stroke-width="0.22">Arhgef2<tspan dy="-3.4" font-size="7.6">-/-</tspan><tspan dy="3.4"> LSK</tspan></text>
</svg></body></html>
